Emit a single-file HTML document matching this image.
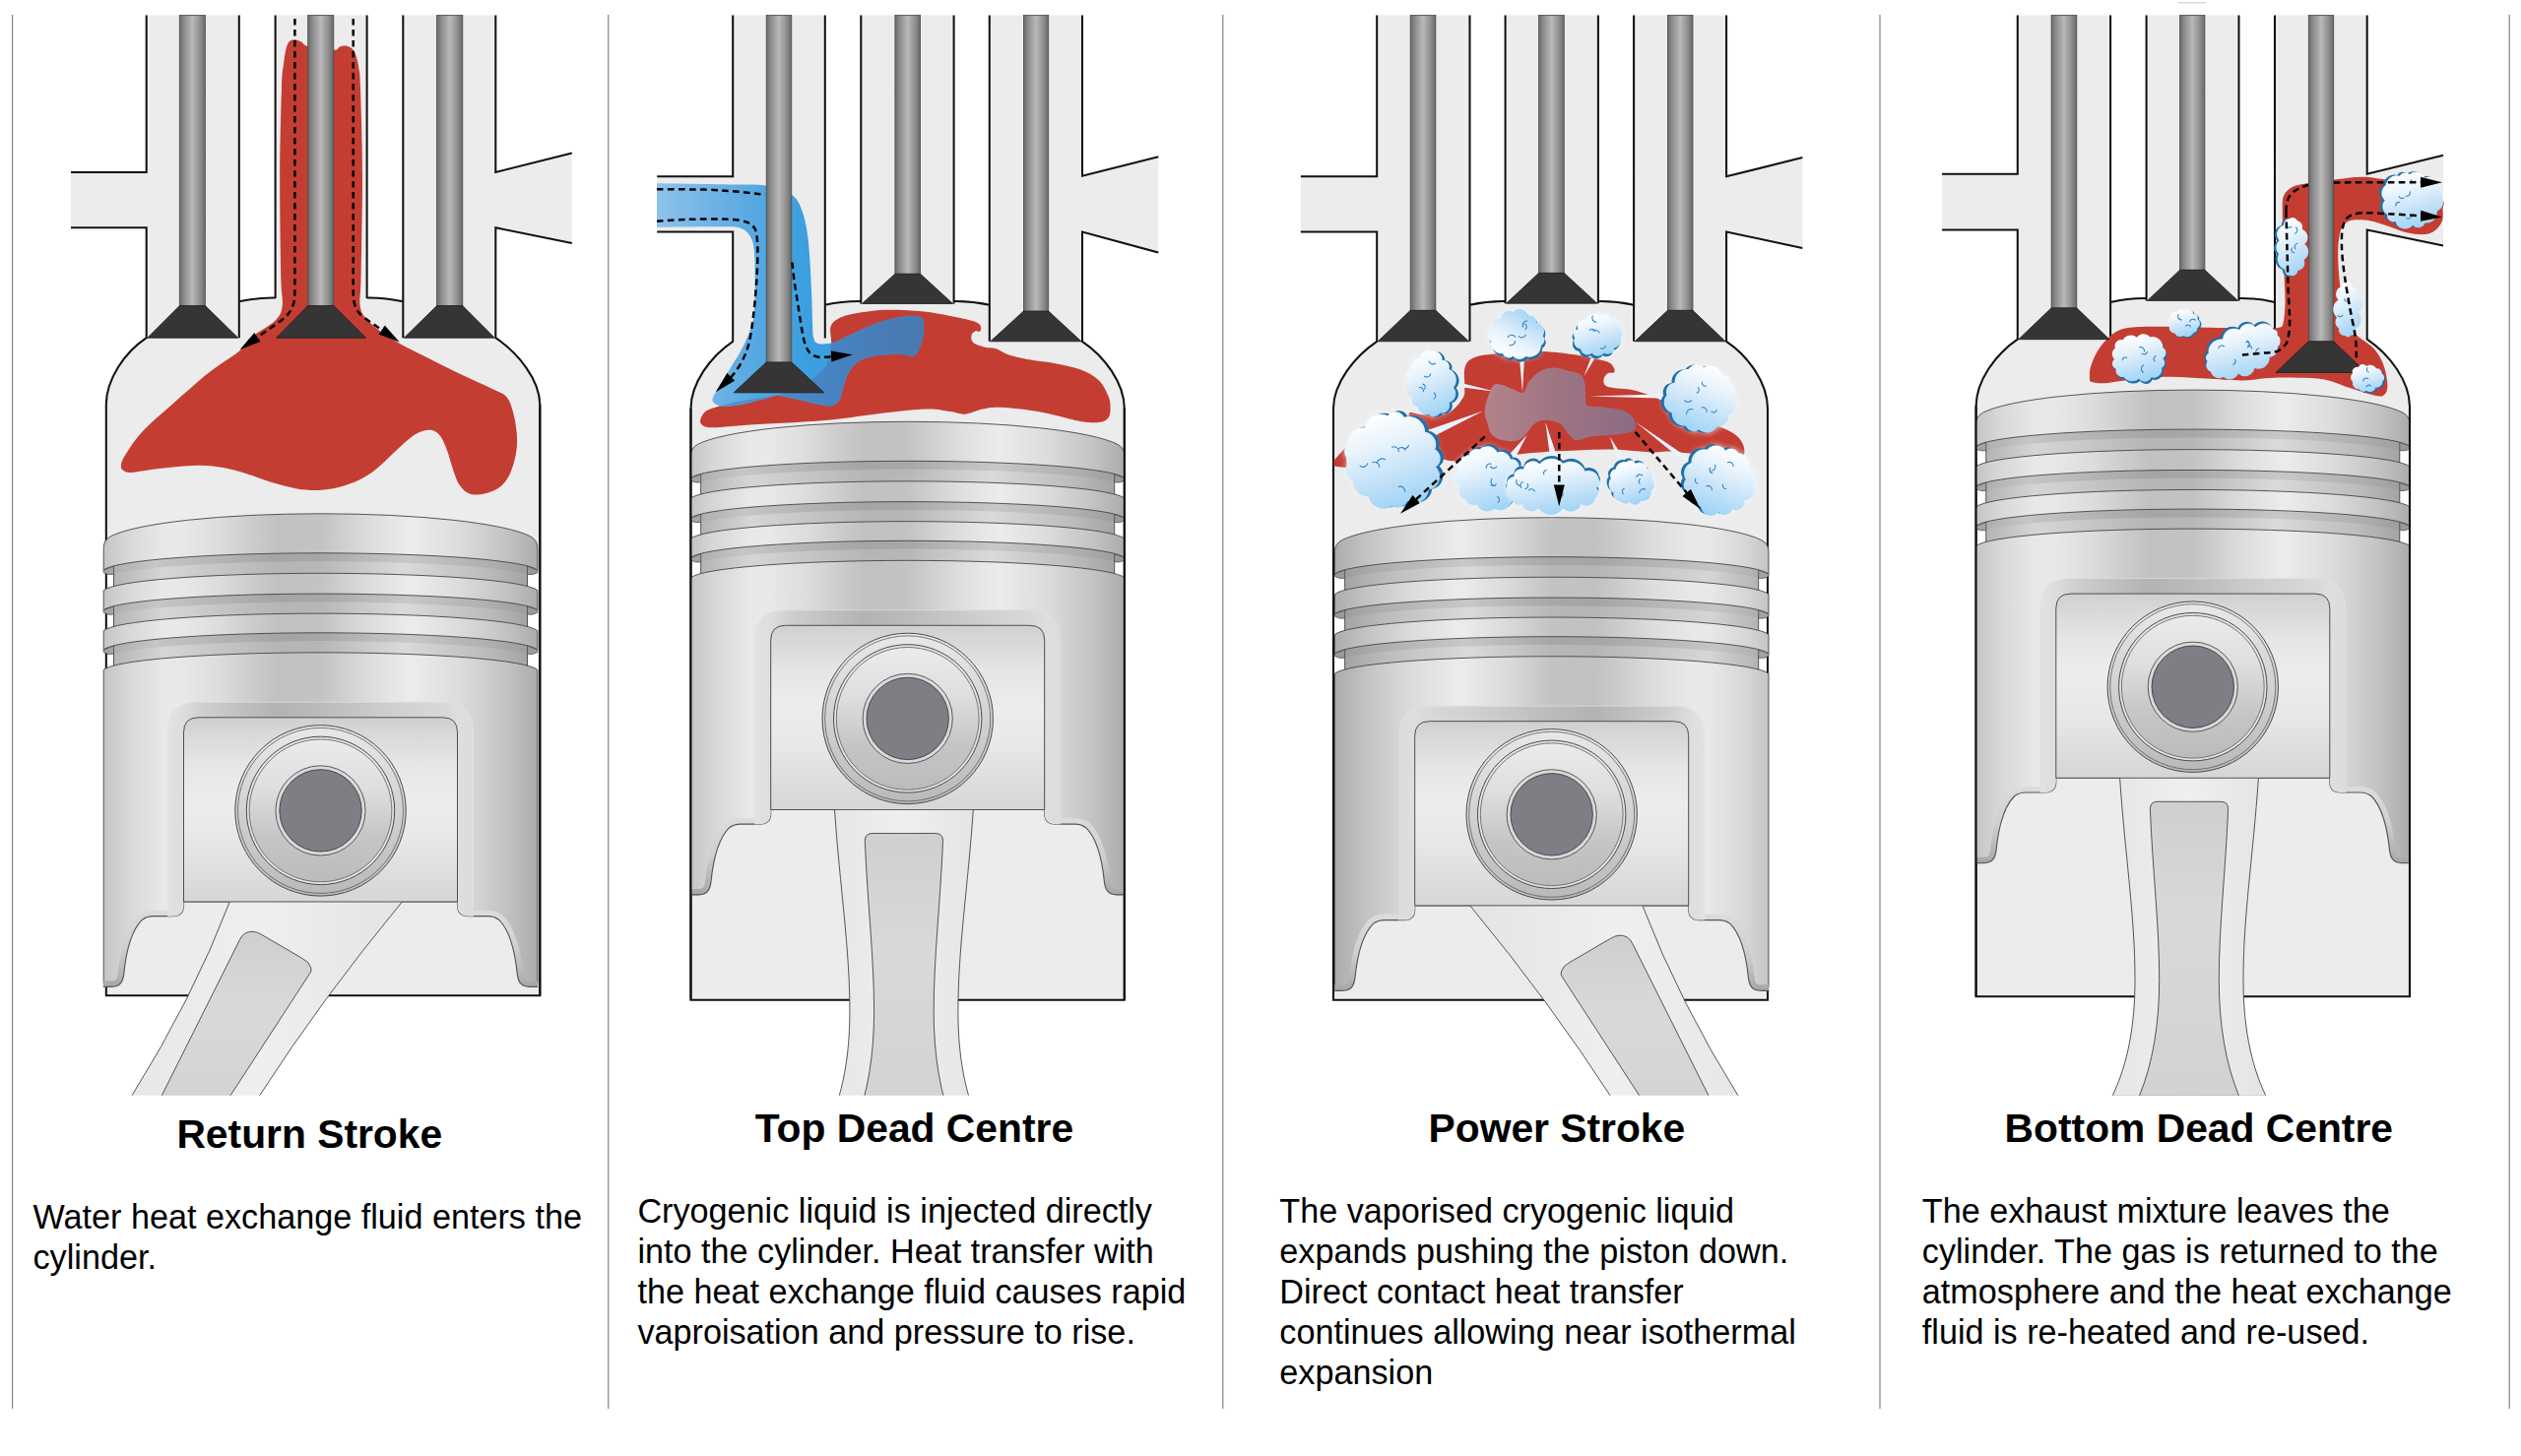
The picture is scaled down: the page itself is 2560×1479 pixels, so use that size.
<!DOCTYPE html>
<html><head><meta charset="utf-8"><title>Engine cycle</title>
<style>html,body{margin:0;padding:0;background:#fff}svg{display:block}text{font-family:"Liberation Sans",sans-serif;fill:#000}</style></head><body>
<svg width="2560" height="1479" viewBox="0 0 2560 1479">
<rect width="2560" height="1479" fill="#fff"/>
<defs>
<linearGradient id="stem" x1="0" x2="1" y1="0" y2="0"><stop offset="0" stop-color="#6a6a6a"/><stop offset="0.18" stop-color="#8c8c8c"/><stop offset="0.5" stop-color="#b9b9b9"/><stop offset="0.8" stop-color="#8e8e8e"/><stop offset="1" stop-color="#686868"/></linearGradient>
<linearGradient id="pg" x1="0" x2="1" y1="0" y2="0"><stop offset="0" stop-color="#c4c4c4"/><stop offset="0.05" stop-color="#d6d6d6"/><stop offset="0.135" stop-color="#e8e8e8"/><stop offset="0.175" stop-color="#e9e9e9"/><stop offset="0.27" stop-color="#dcdcdc"/><stop offset="0.40" stop-color="#c2c0c1"/><stop offset="0.50" stop-color="#c4c3c4"/><stop offset="0.62" stop-color="#dedede"/><stop offset="0.71" stop-color="#ececec"/><stop offset="0.82" stop-color="#dcdcdc"/><stop offset="0.92" stop-color="#c6c5c6"/><stop offset="1" stop-color="#acacac"/></linearGradient>
<linearGradient id="gg" x1="0" x2="1" y1="0" y2="0"><stop offset="0" stop-color="#b4b4b4"/><stop offset="0.12" stop-color="#d6d6d6"/><stop offset="0.40" stop-color="#b6b4b5"/><stop offset="0.50" stop-color="#b8b7b8"/><stop offset="0.70" stop-color="#dadada"/><stop offset="0.9" stop-color="#bcbcbc"/><stop offset="1" stop-color="#a4a4a4"/></linearGradient>
<linearGradient id="gs" x1="0" x2="1" y1="0" y2="0"><stop offset="0" stop-color="#a8a8a8"/><stop offset="0.12" stop-color="#c6c6c6"/><stop offset="0.40" stop-color="#a6a4a5"/><stop offset="0.50" stop-color="#a8a7a8"/><stop offset="0.70" stop-color="#c8c8c8"/><stop offset="0.9" stop-color="#adadad"/><stop offset="1" stop-color="#989898"/></linearGradient>
<linearGradient id="rb" x1="0" x2="1" y1="0" y2="0"><stop offset="0" stop-color="#e2e2e2"/><stop offset="0.045" stop-color="#dedede"/><stop offset="0.12" stop-color="#cecece"/><stop offset="0.36" stop-color="#b4b2b3"/><stop offset="0.5" stop-color="#bcbbbc"/><stop offset="0.75" stop-color="#d0d0d0"/><stop offset="0.9" stop-color="#d8d8d8"/><stop offset="0.955" stop-color="#dedede"/><stop offset="1" stop-color="#dcdcdc"/></linearGradient>
<linearGradient id="ri" x1="0" x2="0" y1="0" y2="1"><stop offset="0" stop-color="#d0d0d0"/><stop offset="0.25" stop-color="#e6e6e6"/><stop offset="0.45" stop-color="#ededed"/><stop offset="0.65" stop-color="#e8e8e8"/><stop offset="1" stop-color="#d6d6d6"/></linearGradient>
<linearGradient id="pinO" x1="0" x2="0" y1="0" y2="1"><stop offset="0" stop-color="#e8e8e8"/><stop offset="0.45" stop-color="#d4d4d4"/><stop offset="1" stop-color="#b9b9b9"/></linearGradient>
<linearGradient id="pinI" x1="0" x2="0" y1="0" y2="1"><stop offset="0" stop-color="#ebebeb"/><stop offset="0.35" stop-color="#dedede"/><stop offset="0.7" stop-color="#c6c5c6"/><stop offset="1" stop-color="#bcbbbc"/></linearGradient>
<linearGradient id="rodO" x1="0" x2="1" y1="0" y2="0"><stop offset="0" stop-color="#e6e6e6"/><stop offset="0.5" stop-color="#efefef"/><stop offset="1" stop-color="#e4e4e4"/></linearGradient>
<linearGradient id="rodI" x1="0" x2="0" y1="0" y2="1"><stop offset="0" stop-color="#cfcfcf"/><stop offset="0.4" stop-color="#d9d9d9"/><stop offset="1" stop-color="#d2d2d2"/></linearGradient>
<linearGradient id="cl" x1="0.3" y1="0.02" x2="0.62" y2="1"><stop offset="0" stop-color="#ffffff"/><stop offset="0.3" stop-color="#eaf4fc"/><stop offset="0.65" stop-color="#c4e2f8"/><stop offset="1" stop-color="#9dd3f5"/></linearGradient>
<linearGradient id="cl2" x1="0.75" y1="0.02" x2="0.35" y2="1"><stop offset="0" stop-color="#ffffff"/><stop offset="0.3" stop-color="#eaf4fc"/><stop offset="0.65" stop-color="#c4e2f8"/><stop offset="1" stop-color="#9dd3f5"/></linearGradient>
<linearGradient id="clu" x1="0.25" y1="0.95" x2="0.8" y2="0.05"><stop offset="0" stop-color="#ffffff"/><stop offset="0.35" stop-color="#eaf4fc"/><stop offset="0.7" stop-color="#c4e2f8"/><stop offset="1" stop-color="#9dd3f5"/></linearGradient>
<filter id="bl" x="-30%" y="-30%" width="160%" height="160%"><feGaussianBlur stdDeviation="3"/></filter>
<filter id="bl1" x="-30%" y="-30%" width="160%" height="160%"><feGaussianBlur stdDeviation="1.2"/></filter>
<linearGradient id="blu" gradientUnits="userSpaceOnUse" x1="667" y1="0" x2="940" y2="0"><stop offset="0" stop-color="#8ec2ea"/><stop offset="0.3" stop-color="#60ace3"/><stop offset="0.55" stop-color="#3c9fdf"/><stop offset="1" stop-color="#3a9ade"/></linearGradient>
<linearGradient id="pur" gradientUnits="userSpaceOnUse" x1="1505" y1="0" x2="1662" y2="0"><stop offset="0" stop-color="#b3838a"/><stop offset="0.5" stop-color="#9e7482"/><stop offset="1" stop-color="#8c6b86"/></linearGradient>
<marker id="ah" viewBox="0 0 22 12" refX="4" refY="6" markerWidth="22" markerHeight="12" markerUnits="userSpaceOnUse" orient="auto"><path d="M0,0.5L22,6L0,11.5Z" fill="#000"/></marker>
<linearGradient id="stl" gradientUnits="userSpaceOnUse" x1="730" y1="0" x2="940" y2="0"><stop offset="0" stop-color="#5a92cc"/><stop offset="0.5" stop-color="#4684c2"/><stop offset="1" stop-color="#4a78b0"/></linearGradient>
<linearGradient id="bv" gradientUnits="userSpaceOnUse" x1="0" y1="400" x2="0" y2="482"><stop offset="0" stop-color="#dddddd"/><stop offset="0.5" stop-color="#cfcfcf"/><stop offset="0.85" stop-color="#b2b2b2"/><stop offset="1" stop-color="#a4a4a4"/></linearGradient>
<clipPath id="bvc"><rect x="-220.3" y="380" width="440.6" height="100.5"/></clipPath>
<clipPath id="gc"><rect x="-210" y="0" width="420" height="220"/></clipPath>
</defs>
<line x1="12.6" y1="15" x2="12.6" y2="1431" stroke="#8e8e8e" stroke-width="1.3"/>
<line x1="617.7" y1="15" x2="617.7" y2="1431" stroke="#8e8e8e" stroke-width="1.3"/>
<line x1="1241.8" y1="15" x2="1241.8" y2="1431" stroke="#8e8e8e" stroke-width="1.3"/>
<line x1="1909" y1="15" x2="1909" y2="1431" stroke="#8e8e8e" stroke-width="1.3"/>
<line x1="2548.2" y1="15" x2="2548.2" y2="1431" stroke="#8e8e8e" stroke-width="1.3"/>
<rect x="2212" y="2" width="28" height="1.5" fill="#d8d8d8"/>
<g id="panel1">
<path d="M148.7,15.5 V174.9 H72 V231.3 H148.7 V343.2C126,358.5 108,385.5 107.8,411.2V1011.3 H548.3 V411.2C548.1,385.5 526,358.5 503.3,343.2V231.3 L580.8,247 V155.6 L503.3,174.9 V15.5H409.3 V306.3Q391,302.2 372.6,302.5V15.5 H279.6 V302.5Q261.2,302.2 242.8,306.3V15.5Z" fill="#ececec"/>
<rect x="103.7" y="578.1" width="443.6" height="22.6" fill="#fff"/>
<rect x="103.7" y="618.7" width="443.6" height="23" fill="#fff"/>
<rect x="103.7" y="659" width="443.6" height="22.4" fill="#fff"/>
<path d="M148.7,15.5 V174.9 H72M72,231.3 H148.7 V343.2C126,358.5 108,385.5 107.8,411.2V1011.3 H548.3 V411.2C548.1,385.5 526,358.5 503.3,343.2V231.3 L580.8,247M580.8,155.6 L503.3,174.9 V15.5M242.8,15.5 V343.2M279.6,15.5 V303M372.6,15.5 V303M409.3,15.5 V343.2M242.8,306.3 Q261.2,302.2 279.6,302.5M372.6,302.5 Q391,302.2 409.3,306.3" fill="none" stroke="#111" stroke-width="2.05" stroke-linejoin="miter"/>
<g transform="translate(325.5,521.8)">
<rect x="-210" y="40" width="420" height="38.9" fill="url(#gg)" stroke="#454545" stroke-width="0.9"/>
<path d="M-220.3,57.3A221.3,19.1 0 0 1 220.3,57.3V65.6A221.3,19.1 0 0 0 -220.3,65.6Z" fill="url(#gs)" clip-path="url(#gc)"/>
<path d="M-220.3,57.3 L-210,53.3 V61.5 Q-215.3,62.8 -220.3,59.9 Z" fill="#a4a4a4" stroke="#454545" stroke-width="0.7"/>
<path d="M220.3,57.3 L210,53.3 V61.5 Q215.3,62.8 220.3,59.9 Z" fill="#9a9a9a" stroke="#454545" stroke-width="0.7"/>
<rect x="-210" y="81.3" width="420" height="38.6" fill="url(#gg)" stroke="#454545" stroke-width="0.9"/>
<path d="M-220.3,97.9A221.3,18.3 0 0 1 220.3,97.9V106.2A221.3,18.3 0 0 0 -220.3,106.2Z" fill="url(#gs)" clip-path="url(#gc)"/>
<path d="M-220.3,97.9 L-210,94.1 V102.3 Q-215.3,103.4 -220.3,100.5 Z" fill="#a4a4a4" stroke="#454545" stroke-width="0.7"/>
<path d="M220.3,97.9 L210,94.1 V102.3 Q215.3,103.4 220.3,100.5 Z" fill="#9a9a9a" stroke="#454545" stroke-width="0.7"/>
<rect x="-210" y="121" width="420" height="38.6" fill="url(#gg)" stroke="#454545" stroke-width="0.9"/>
<path d="M-220.3,138.2A221.3,19 0 0 1 220.3,138.2V146.5A221.3,19 0 0 0 -220.3,146.5Z" fill="url(#gs)" clip-path="url(#gc)"/>
<path d="M-220.3,138.2 L-210,134.3 V142.5 Q-215.3,143.7 -220.3,140.8 Z" fill="#a4a4a4" stroke="#454545" stroke-width="0.7"/>
<path d="M220.3,138.2 L210,134.3 V142.5 Q215.3,143.7 220.3,140.8 Z" fill="#9a9a9a" stroke="#454545" stroke-width="0.7"/>
<path d="M-220.3,158.6A221.3,19.4 0 0 1 220.3,158.6V477.3 Q220.3,480.3 217.3,480.3 H-217.3 Q-220.3,480.3 -220.3,477.3 Z" fill="url(#pg)" stroke="#454545" stroke-width="0.9"/>
<path d="M220.8,480.6 H212 C204,480.3 201,476.5 199.8,468 C198,450 194,425 181,412.4 C177,409.5 173,408.9 169.8,408.9 H150 C143,408.9 139,405 139,398 V394.2 H-139 V398 C-139,405 -143,408.9 -150,408.9 H-169.8 C-173,408.9 -177,409.5 -181,412.4 C-194,425 -198,450 -199.8,468 C-201,476.5 -204,480.3 -212,480.6 H-220.8" fill="none" stroke="url(#bv)" stroke-width="12" stroke-linejoin="round" clip-path="url(#bvc)"/>
<path d="M212,481.6 V480.6 C204,480.3 201,476.5 199.8,468 C198,450 194,425 181,412.4 C177,409.5 173,408.9 169.8,408.9 H150 C143,408.9 139,405 139,398 V394.2 H-139 V398 C-139,405 -143,408.9 -150,408.9 H-169.8 C-173,408.9 -177,409.5 -181,412.4 C-194,425 -198,450 -199.8,468 C-201,476.5 -204,480.3 -212,480.6 V481.6 Z" fill="#ececec"/>
<path d="M220.8,480.6 H212 C204,480.3 201,476.5 199.8,468 C198,450 194,425 181,412.4 C177,409.5 173,408.9 169.8,408.9 H150 C143,408.9 139,405 139,398 V394.2 H-139 V398 C-139,405 -143,408.9 -150,408.9 H-169.8 C-173,408.9 -177,409.5 -181,412.4 C-194,425 -198,450 -199.8,468 C-201,476.5 -204,480.3 -212,480.6 H-220.8" fill="none" stroke="#555" stroke-width="1.15"/>
<path d="M-155,408.9 V221.5 Q-155,191.5 -125,191.5 H125 Q155,191.5 155,221.5 V408.9 H150 C143,408.9 139,405 139,398 V394.2 H-139 V398 C-139,405 -143,408.9 -150,408.9 Z" fill="url(#rb)"/>
<path d="M-155,408.9 V221.5 Q-155,191.5 -125,191.5 H125 Q155,191.5 155,221.5 V408.9" fill="none" stroke="#e2e2e2" stroke-width="0.9" opacity="0.8"/>
<path d="M-139,394.2 V222 Q-139,207 -124,207 H124 Q139,207 139,222 V394.2 Z" fill="url(#ri)" stroke="#4e4e4e" stroke-width="1"/>
<circle cx="0" cy="301.6" r="86.7" fill="url(#pinO)" stroke="#4a4a4a" stroke-width="1"/>
<circle cx="0" cy="301.6" r="84" fill="none" stroke="#5a5a5a" stroke-width="0.8"/>
<circle cx="0" cy="301.6" r="75.2" fill="#e2e2e2" stroke="#4a4a4a" stroke-width="1"/>
<circle cx="0" cy="301.6" r="72.4" fill="url(#pinI)" stroke="#5a5a5a" stroke-width="0.8"/>
<circle cx="0" cy="301.6" r="45.6" fill="#d9d9dc" stroke="#4a4a4a" stroke-width="0.9"/>
<circle cx="0" cy="301.6" r="41.7" fill="#7d7f84" stroke="#3c3c3c" stroke-width="0.9"/>
<path d="M-220.3,34.8 Q-220.3,27 -213.3,23.1A221.3,31.5 0 0 1 213.3,23.1Q220.3,27 220.3,34.8V57.3A221.3,19.1 0 0 0 -220.3,57.3Z" fill="url(#pg)" stroke="#454545" stroke-width="0.9" stroke-linejoin="round"/>
<path d="M-220.3,77.9A221.3,19.2 0 0 1 220.3,77.9V97.9A221.3,18.3 0 0 0 -220.3,97.9Z" fill="url(#pg)" stroke="#454545" stroke-width="0.9" stroke-linejoin="round"/>
<path d="M-220.3,118.9A221.3,19.4 0 0 1 220.3,118.9V138.2A221.3,19 0 0 0 -220.3,138.2Z" fill="url(#pg)" stroke="#454545" stroke-width="0.9" stroke-linejoin="round"/>
</g>
<path d="M548.3,411.2 V1011.3" fill="none" stroke="#111" stroke-width="2.05"/>
<clipPath id="rc0"><rect x="-24.5" y="916" width="700" height="196.8"/></clipPath>
<g clip-path="url(#rc0)"><g transform="translate(325.5,521.8)">
<path d="M-92.2,394.2 Q-129.9,492.6 -191.5,591 L-209.7,620 H-80.6 L-61.9,591 Q1.5,492.6 82.9,394.2Z" fill="url(#rodO)" stroke="#444" stroke-width="0.9"/>
<path d="M-175.7,620 L-82.1,432.9 Q-78,424 -68.5,424.5 Q-64,425 -60,427.5 L-18,452 Q-11,456 -9.9,461 Q-8.5,464.5 -10.5,466.4 L-110.3,620Z" fill="url(#rodI)" stroke="#444" stroke-width="0.9"/>
</g></g>
<path d="M290,52C290.8,48.3 291.6,45 293,43C294.4,41 296.5,40.3 298.7,40.2C300.9,40.1 303.7,41.4 306,42.5C308.3,43.6 307.2,45.6 312.7,47C318.2,48.4 333.4,50.7 338.8,50.8C344.2,50.9 343,48.2 345,47.5C347,46.8 348.8,46.2 350.8,46.5C352.8,46.8 355.3,47.6 357,49C358.7,50.4 359.8,51.2 361,54.7C362.2,58.2 363.7,64.3 364.5,70C365.3,75.7 365.4,71 366,89C366.6,107 367.9,146.2 368,178C368.1,209.8 366.9,257.2 366.6,279.6C366.3,302.1 364.4,304.6 366,312.7C367.6,320.8 372.2,323.5 376.2,327.9C380.2,332.3 384.9,335.4 390,339C395.1,342.6 400.3,345.9 406.7,349.5C413.1,353.1 418.4,355.5 428.4,360.5C438.4,365.5 454.2,373.6 466.5,379.5C478.8,385.4 494.1,392 502.1,396C510.2,400 511.6,399.9 514.8,403.7C518,407.5 519.4,412.5 521.1,418.9C522.8,425.2 524.5,434.6 524.9,441.8C525.3,449 525,455.3 523.7,462.1C522.4,468.9 520,476.9 517.3,482.4C514.5,487.9 511.4,491.9 507.2,495.1C503,498.3 497,500.4 491.9,501.5C486.8,502.6 480.9,503 476.7,501.5C472.5,500 469.2,496.6 466.5,492.6C463.8,488.6 462.3,483.3 460.2,477.4C458.1,471.5 456.1,462.9 453.8,457C451.5,451.1 449.2,445.2 446.2,441.8C443.2,438.4 440.2,436.7 436,436.7C431.8,436.7 426.3,438.4 420.8,441.8C415.3,445.2 410.2,450.6 403,457C395.8,463.4 386.1,474 377.6,479.9C369.1,485.8 360.7,489.6 352.2,492.6C343.7,495.6 335.3,497.1 326.8,497.7C318.3,498.3 309.9,497.7 301.4,496.4C292.9,495.1 284.5,492.6 276,490.1C267.5,487.6 259,483.8 250.5,481.2C242,478.6 233.6,476.2 225.1,474.8C216.6,473.4 210.3,472.6 199.7,472.8C189.1,473 172.6,474.9 161.6,476.1C150.6,477.3 139.8,479.7 133.7,479.9C127.6,480.1 126.6,478.7 124.8,477.4C123,476.1 122.6,474.9 123,472.3C123.4,469.8 123.8,467.6 127.3,462.1C130.8,456.6 136,447.7 143.8,439.2C151.6,430.7 162.9,421.4 174.3,411.3C185.7,401.2 201,387.4 212.4,378.3C223.8,369.2 235.9,362.6 242.9,356.7C249.9,350.8 248.1,348.4 254.2,343.2C260.3,338 274.2,330.9 279.6,325.4C285,319.9 285.8,317.6 286.7,310C287.6,302.4 285.6,301.6 285.2,279.6C284.8,257.6 284.1,209.8 284.2,178C284.3,146.2 285.4,107.8 286,89C286.6,70.2 287.3,71.2 288,65C288.7,58.8 289.2,55.7 290,52Z" fill="#c43d33"/>
<rect x="182.3" y="15.5" width="26.1" height="295.6" fill="url(#stem)" stroke="#4a4a4a" stroke-width="0.8"/>
<path d="M182.3,310.6 H208.4 L241.8,343.2 H149.7Z" fill="#353535" stroke="#1c1c1c" stroke-width="0.8"/>
<rect x="312.7" y="15.5" width="26.1" height="295.6" fill="url(#stem)" stroke="#4a4a4a" stroke-width="0.8"/>
<path d="M312.7,310.6 H338.8 L371.6,343.2 H280.6Z" fill="#353535" stroke="#1c1c1c" stroke-width="0.8"/>
<rect x="443.6" y="15.5" width="26.2" height="295.6" fill="url(#stem)" stroke="#4a4a4a" stroke-width="0.8"/>
<path d="M443.6,310.6 H469.8 L502.3,343.2 H410.3Z" fill="#353535" stroke="#1c1c1c" stroke-width="0.8"/>
<path d="M299.4,19 V296 C299.4,312 295,318 285,326 L258.2,344.8" fill="none" stroke="#000" stroke-width="2.5" stroke-dasharray="6.6 4.4" marker-end="url(#ah)"/>
<path d="M358.7,19 V296 C358.7,311 362,317 371,323.5 L390.9,337.3" fill="none" stroke="#000" stroke-width="2.5" stroke-dasharray="6.6 4.4" marker-end="url(#ah)"/>
</g>
<g id="panel2">
<path d="M744.2,15.5 V179.3 H667.2 V235.5 H744.2 V346.8C721.5,362.1 701.7,389.1 701.5,414.8V1015.8 H1141.8 V414.8C1141.6,389.1 1121.7,362.1 1099,346.8V235.5 L1176.3,256.6 V159.2 L1099,178.7 V15.5H1004.8 V309.7Q986.7,305.7 968.6,306V15.5 H874.3 V306Q856,305.7 837.8,309.7V15.5Z" fill="#ececec"/>
<rect x="699.9" y="484.6" width="443.6" height="22.6" fill="#fff"/>
<rect x="699.9" y="525.2" width="443.6" height="23" fill="#fff"/>
<rect x="699.9" y="565.5" width="443.6" height="22.4" fill="#fff"/>
<path d="M744.2,15.5 V179.3 H667.2M667.2,235.5 H744.2 V346.8C721.5,362.1 701.7,389.1 701.5,414.8V1015.8 H1141.8 V414.8C1141.6,389.1 1121.7,362.1 1099,346.8V235.5 L1176.3,256.6M1176.3,159.2 L1099,178.7 V15.5M837.8,15.5 V343.5M874.3,15.5 V308.5M968.6,15.5 V308.5M1004.8,15.5 V346.8M837.8,309.7 Q856,305.7 874.3,306M968.6,306 Q986.7,305.7 1004.8,309.7" fill="none" stroke="#111" stroke-width="2.05" stroke-linejoin="miter"/>
<g transform="translate(921.7,428.3)">
<rect x="-210" y="40" width="420" height="38.9" fill="url(#gg)" stroke="#454545" stroke-width="0.9"/>
<path d="M-220.3,57.3A221.3,19.1 0 0 1 220.3,57.3V65.6A221.3,19.1 0 0 0 -220.3,65.6Z" fill="url(#gs)" clip-path="url(#gc)"/>
<path d="M-220.3,57.3 L-210,53.3 V61.5 Q-215.3,62.8 -220.3,59.9 Z" fill="#a4a4a4" stroke="#454545" stroke-width="0.7"/>
<path d="M220.3,57.3 L210,53.3 V61.5 Q215.3,62.8 220.3,59.9 Z" fill="#9a9a9a" stroke="#454545" stroke-width="0.7"/>
<rect x="-210" y="81.3" width="420" height="38.6" fill="url(#gg)" stroke="#454545" stroke-width="0.9"/>
<path d="M-220.3,97.9A221.3,18.3 0 0 1 220.3,97.9V106.2A221.3,18.3 0 0 0 -220.3,106.2Z" fill="url(#gs)" clip-path="url(#gc)"/>
<path d="M-220.3,97.9 L-210,94.1 V102.3 Q-215.3,103.4 -220.3,100.5 Z" fill="#a4a4a4" stroke="#454545" stroke-width="0.7"/>
<path d="M220.3,97.9 L210,94.1 V102.3 Q215.3,103.4 220.3,100.5 Z" fill="#9a9a9a" stroke="#454545" stroke-width="0.7"/>
<rect x="-210" y="121" width="420" height="38.6" fill="url(#gg)" stroke="#454545" stroke-width="0.9"/>
<path d="M-220.3,138.2A221.3,19 0 0 1 220.3,138.2V146.5A221.3,19 0 0 0 -220.3,146.5Z" fill="url(#gs)" clip-path="url(#gc)"/>
<path d="M-220.3,138.2 L-210,134.3 V142.5 Q-215.3,143.7 -220.3,140.8 Z" fill="#a4a4a4" stroke="#454545" stroke-width="0.7"/>
<path d="M220.3,138.2 L210,134.3 V142.5 Q215.3,143.7 220.3,140.8 Z" fill="#9a9a9a" stroke="#454545" stroke-width="0.7"/>
<path d="M-220.3,158.6A221.3,19.4 0 0 1 220.3,158.6V477.3 Q220.3,480.3 217.3,480.3 H-217.3 Q-220.3,480.3 -220.3,477.3 Z" fill="url(#pg)" stroke="#454545" stroke-width="0.9"/>
<path d="M220.8,480.6 H212 C204,480.3 201,476.5 199.8,468 C198,450 194,425 181,412.4 C177,409.5 173,408.9 169.8,408.9 H150 C143,408.9 139,405 139,398 V394.2 H-139 V398 C-139,405 -143,408.9 -150,408.9 H-169.8 C-173,408.9 -177,409.5 -181,412.4 C-194,425 -198,450 -199.8,468 C-201,476.5 -204,480.3 -212,480.6 H-220.8" fill="none" stroke="url(#bv)" stroke-width="12" stroke-linejoin="round" clip-path="url(#bvc)"/>
<path d="M212,481.6 V480.6 C204,480.3 201,476.5 199.8,468 C198,450 194,425 181,412.4 C177,409.5 173,408.9 169.8,408.9 H150 C143,408.9 139,405 139,398 V394.2 H-139 V398 C-139,405 -143,408.9 -150,408.9 H-169.8 C-173,408.9 -177,409.5 -181,412.4 C-194,425 -198,450 -199.8,468 C-201,476.5 -204,480.3 -212,480.6 V481.6 Z" fill="#ececec"/>
<path d="M220.8,480.6 H212 C204,480.3 201,476.5 199.8,468 C198,450 194,425 181,412.4 C177,409.5 173,408.9 169.8,408.9 H150 C143,408.9 139,405 139,398 V394.2 H-139 V398 C-139,405 -143,408.9 -150,408.9 H-169.8 C-173,408.9 -177,409.5 -181,412.4 C-194,425 -198,450 -199.8,468 C-201,476.5 -204,480.3 -212,480.6 H-220.8" fill="none" stroke="#555" stroke-width="1.15"/>
<path d="M-155,408.9 V221.5 Q-155,191.5 -125,191.5 H125 Q155,191.5 155,221.5 V408.9 H150 C143,408.9 139,405 139,398 V394.2 H-139 V398 C-139,405 -143,408.9 -150,408.9 Z" fill="url(#rb)"/>
<path d="M-155,408.9 V221.5 Q-155,191.5 -125,191.5 H125 Q155,191.5 155,221.5 V408.9" fill="none" stroke="#e2e2e2" stroke-width="0.9" opacity="0.8"/>
<path d="M-139,394.2 V222 Q-139,207 -124,207 H124 Q139,207 139,222 V394.2 Z" fill="url(#ri)" stroke="#4e4e4e" stroke-width="1"/>
<circle cx="0" cy="301.6" r="86.7" fill="url(#pinO)" stroke="#4a4a4a" stroke-width="1"/>
<circle cx="0" cy="301.6" r="84" fill="none" stroke="#5a5a5a" stroke-width="0.8"/>
<circle cx="0" cy="301.6" r="75.2" fill="#e2e2e2" stroke="#4a4a4a" stroke-width="1"/>
<circle cx="0" cy="301.6" r="72.4" fill="url(#pinI)" stroke="#5a5a5a" stroke-width="0.8"/>
<circle cx="0" cy="301.6" r="45.6" fill="#d9d9dc" stroke="#4a4a4a" stroke-width="0.9"/>
<circle cx="0" cy="301.6" r="41.7" fill="#7d7f84" stroke="#3c3c3c" stroke-width="0.9"/>
<path d="M-220.3,34.8 Q-220.3,27 -213.3,23.1A221.3,31.5 0 0 1 213.3,23.1Q220.3,27 220.3,34.8V57.3A221.3,19.1 0 0 0 -220.3,57.3Z" fill="url(#pg)" stroke="#454545" stroke-width="0.9" stroke-linejoin="round"/>
<path d="M-220.3,77.9A221.3,19.2 0 0 1 220.3,77.9V97.9A221.3,18.3 0 0 0 -220.3,97.9Z" fill="url(#pg)" stroke="#454545" stroke-width="0.9" stroke-linejoin="round"/>
<path d="M-220.3,118.9A221.3,19.4 0 0 1 220.3,118.9V138.2A221.3,19 0 0 0 -220.3,138.2Z" fill="url(#pg)" stroke="#454545" stroke-width="0.9" stroke-linejoin="round"/>
</g>
<path d="M701.5,414.8 V1015.8M1141.8,414.8 V1015.8" fill="none" stroke="#111" stroke-width="2.05"/>
<clipPath id="rc1"><rect x="571.7" y="822.5" width="700" height="290.3"/></clipPath>
<g clip-path="url(#rc1)"><g transform="translate(921.7,428.3)">
<path d="M-74.2,394.2C-68.7,474.2 -58.8,534.2 -58.8,599.2 C-58.8,644.2 -65.8,684.2 -81.8,717.2H74.2C58.2,684.2 51.2,644.2 51.2,599.2 C51.2,534.2 61.1,474.2 66.6,394.2Z" fill="url(#rodO)" stroke="#444" stroke-width="0.9"/>
<path d="M-43.4,426.2C-40.8,489.2 -34.1,544.2 -34.1,599.2 C-34.1,644.2 -40.8,684.2 -54.4,717.2H46.8C33.2,684.2 26.5,644.2 26.5,599.2 C26.5,544.2 33.2,489.2 35.8,426.2Q36,418.2 28.2,418.2 H-35.8 Q-43.6,418.2 -43.4,426.2Z" fill="url(#rodI)" stroke="#444" stroke-width="0.9"/>
</g></g>
<path d="M843.6,331.4C845.4,326.8 849.8,324.4 854.8,322.1C859.8,319.8 865.6,318.7 873.3,317.5C881,316.3 890.3,314.9 901.1,314.7C911.9,314.5 925.8,315.1 938.2,316.5C950.6,317.9 966.3,321.1 975.3,323C984.3,324.9 988.5,326.1 992,327.7C995.5,329.2 995.6,330.8 996.1,332.3C996.6,333.8 995.8,336.2 994.8,336.9C993.8,337.6 991.6,335.9 990.2,336.5C988.8,337.1 986.8,338.8 986.5,340.7C986.2,342.6 986,346.1 988.3,348.1C990.5,350.1 996.2,351.7 1000,352.7C1003.8,353.7 1007.1,352.7 1011,353.9C1014.9,355.1 1018.1,358.3 1023.3,360.1C1028.5,361.9 1033.7,363.2 1041.9,364.8C1050.2,366.4 1063.5,367.6 1072.8,369.4C1082.1,371.2 1090.3,372.8 1097.5,375.6C1104.7,378.4 1111.4,382 1116,386.4C1120.6,390.8 1123.4,397.6 1125.3,401.9C1127.2,406.2 1127.3,408.4 1127.5,412C1127.7,415.6 1127.6,420.4 1126.2,423.2C1124.8,425.9 1122.5,427.5 1119,428.5C1115.5,429.5 1109.5,429.2 1105,429C1100.5,428.8 1100.4,428.8 1091.9,427C1083.4,425.2 1066.5,420.3 1053.8,418.1C1041.1,415.9 1025,414.2 1015.7,413.8C1006.4,413.4 1003.8,414.5 997.9,415.6C992,416.8 985.6,420.3 980.1,420.7C974.6,421.1 971.7,419 964.9,418.1C958.1,417.2 952.2,415.2 939.5,415.6C926.8,416 905.7,418.8 888.7,420.7C871.8,422.6 859,425.2 837.8,427C816.6,428.8 780.6,430.3 761.6,431.5C742.6,432.7 731.7,434.4 723.5,434.3C715.3,434.2 714.6,432.8 712.6,431.2C710.6,429.6 710.9,427.3 711.7,425C712.5,422.7 714.3,419.4 717.3,417.3C720.3,415.2 725.6,414 729.7,412.7C733.8,411.4 737,410.6 742,409.5C747,408.4 752,407.4 760,406C768,404.6 780.8,403.3 790,401C799.2,398.7 807,396.8 815,392C823,387.2 833.2,379 838,372C842.8,365 843.1,356.8 844,350C844.9,343.2 841.8,336 843.6,331.4Z" fill="#c43d33"/>
<clipPath id="redclip"><path d="M843.6,331.4C845.4,326.8 849.8,324.4 854.8,322.1C859.8,319.8 865.6,318.7 873.3,317.5C881,316.3 890.3,314.9 901.1,314.7C911.9,314.5 925.8,315.1 938.2,316.5C950.6,317.9 966.3,321.1 975.3,323C984.3,324.9 988.5,326.1 992,327.7C995.5,329.2 995.6,330.8 996.1,332.3C996.6,333.8 995.8,336.2 994.8,336.9C993.8,337.6 991.6,335.9 990.2,336.5C988.8,337.1 986.8,338.8 986.5,340.7C986.2,342.6 986,346.1 988.3,348.1C990.5,350.1 996.2,351.7 1000,352.7C1003.8,353.7 1007.1,352.7 1011,353.9C1014.9,355.1 1018.1,358.3 1023.3,360.1C1028.5,361.9 1033.7,363.2 1041.9,364.8C1050.2,366.4 1063.5,367.6 1072.8,369.4C1082.1,371.2 1090.3,372.8 1097.5,375.6C1104.7,378.4 1111.4,382 1116,386.4C1120.6,390.8 1123.4,397.6 1125.3,401.9C1127.2,406.2 1127.3,408.4 1127.5,412C1127.7,415.6 1127.6,420.4 1126.2,423.2C1124.8,425.9 1122.5,427.5 1119,428.5C1115.5,429.5 1109.5,429.2 1105,429C1100.5,428.8 1100.4,428.8 1091.9,427C1083.4,425.2 1066.5,420.3 1053.8,418.1C1041.1,415.9 1025,414.2 1015.7,413.8C1006.4,413.4 1003.8,414.5 997.9,415.6C992,416.8 985.6,420.3 980.1,420.7C974.6,421.1 971.7,419 964.9,418.1C958.1,417.2 952.2,415.2 939.5,415.6C926.8,416 905.7,418.8 888.7,420.7C871.8,422.6 859,425.2 837.8,427C816.6,428.8 780.6,430.3 761.6,431.5C742.6,432.7 731.7,434.4 723.5,434.3C715.3,434.2 714.6,432.8 712.6,431.2C710.6,429.6 710.9,427.3 711.7,425C712.5,422.7 714.3,419.4 717.3,417.3C720.3,415.2 725.6,414 729.7,412.7C733.8,411.4 737,410.6 742,409.5C747,408.4 752,407.4 760,406C768,404.6 780.8,403.3 790,401C799.2,398.7 807,396.8 815,392C823,387.2 833.2,379 838,372C842.8,365 843.1,356.8 844,350C844.9,343.2 841.8,336 843.6,331.4Z"/></clipPath>
<path d="M667,186.3C679.2,186.5 721.5,187.1 740,187.5C758.5,187.9 767.4,186.8 778,188.5C788.6,190.2 797.8,193.8 803.8,197.8C809.8,201.8 811.4,206.5 814,212.7C816.6,218.9 818.1,226.6 819.5,234.9C820.9,243.2 821.5,251.9 822.3,262.7C823.1,273.5 823.7,289 824.2,299.8C824.7,310.6 824.8,320.6 825.1,327.7C825.4,334.8 825.1,338.9 826,342.5C826.9,346.1 827.5,348.1 830.7,349C834,349.9 840,349.7 845.5,348.1C851,346.6 856.3,343.1 864,339.7C871.7,336.3 882.6,330.8 891.9,327.7C901.2,324.6 912.6,322.1 919.7,321.2C926.8,320.3 931.4,320.7 934.5,322.1C937.6,323.5 937.9,325.5 938.2,329.5C938.5,333.5 937.9,340.9 936.4,346.2C934.9,351.5 932.4,358.8 929,361.1C925.6,363.4 922.2,360.1 916,360.1C909.8,360.1 899,360 891.9,361.1C884.8,362.2 878.2,363.8 873.3,366.6C868.3,369.4 865,373.5 862.2,377.8C859.4,382.1 858.2,388 856.6,392.6C855,397.2 854.8,402.4 852.9,405.6C851,408.9 848.9,411.2 845.5,412.1C842.1,413 838.7,412.2 832.5,411.1C826.3,410 815.5,407.1 808.4,405.6C801.3,404.1 795.4,401.9 789.8,401.9C784.2,401.9 781.2,404.1 775,405.6C768.8,407.1 759.5,409.9 752.7,411.1C745.9,412.3 738.8,413.3 734.2,413C729.6,412.7 726.6,410.9 724.9,409.3C723.2,407.8 723.1,406.5 724,403.7C724.9,400.9 727.6,397.6 730.5,392.6C733.4,387.7 737.9,380.2 741.6,374C745.3,367.8 749.5,361.7 752.7,355.5C756,349.3 758.9,343.1 761.1,336.9C763.3,330.7 764.8,327.7 765.7,318.4C766.6,309.1 766.7,292.1 766.7,281.3C766.7,270.5 766.5,260.3 765.7,253.5C764.9,246.7 764.2,244.1 762,240.5C759.8,236.9 757.3,233.8 752.7,232.1C748.1,230.4 748.5,230.5 734.2,230.3C719.9,230.1 678.2,230.7 667,230.8Z" fill="url(#blu)"/>
<path d="M667,186.3C679.2,186.5 721.5,187.1 740,187.5C758.5,187.9 767.4,186.8 778,188.5C788.6,190.2 797.8,193.8 803.8,197.8C809.8,201.8 811.4,206.5 814,212.7C816.6,218.9 818.1,226.6 819.5,234.9C820.9,243.2 821.5,251.9 822.3,262.7C823.1,273.5 823.7,289 824.2,299.8C824.7,310.6 824.8,320.6 825.1,327.7C825.4,334.8 825.1,338.9 826,342.5C826.9,346.1 827.5,348.1 830.7,349C834,349.9 840,349.7 845.5,348.1C851,346.6 856.3,343.1 864,339.7C871.7,336.3 882.6,330.8 891.9,327.7C901.2,324.6 912.6,322.1 919.7,321.2C926.8,320.3 931.4,320.7 934.5,322.1C937.6,323.5 937.9,325.5 938.2,329.5C938.5,333.5 937.9,340.9 936.4,346.2C934.9,351.5 932.4,358.8 929,361.1C925.6,363.4 922.2,360.1 916,360.1C909.8,360.1 899,360 891.9,361.1C884.8,362.2 878.2,363.8 873.3,366.6C868.3,369.4 865,373.5 862.2,377.8C859.4,382.1 858.2,388 856.6,392.6C855,397.2 854.8,402.4 852.9,405.6C851,408.9 848.9,411.2 845.5,412.1C842.1,413 838.7,412.2 832.5,411.1C826.3,410 815.5,407.1 808.4,405.6C801.3,404.1 795.4,401.9 789.8,401.9C784.2,401.9 781.2,404.1 775,405.6C768.8,407.1 759.5,409.9 752.7,411.1C745.9,412.3 738.8,413.3 734.2,413C729.6,412.7 726.6,410.9 724.9,409.3C723.2,407.8 723.1,406.5 724,403.7C724.9,400.9 727.6,397.6 730.5,392.6C733.4,387.7 737.9,380.2 741.6,374C745.3,367.8 749.5,361.7 752.7,355.5C756,349.3 758.9,343.1 761.1,336.9C763.3,330.7 764.8,327.7 765.7,318.4C766.6,309.1 766.7,292.1 766.7,281.3C766.7,270.5 766.5,260.3 765.7,253.5C764.9,246.7 764.2,244.1 762,240.5C759.8,236.9 757.3,233.8 752.7,232.1C748.1,230.4 748.5,230.5 734.2,230.3C719.9,230.1 678.2,230.7 667,230.8Z" fill="url(#stl)" clip-path="url(#redclip)"/>
<rect x="778.2" y="15.5" width="25.6" height="352.9" fill="url(#stem)" stroke="#4a4a4a" stroke-width="0.8"/>
<path d="M778.2,367.9 H803.8 L836.8,398.8 H745.2Z" fill="#353535" stroke="#1c1c1c" stroke-width="0.8"/>
<rect x="908.9" y="15.5" width="25.7" height="263.2" fill="url(#stem)" stroke="#4a4a4a" stroke-width="0.8"/>
<path d="M908.9,278.2 H934.6 L967.6,308.5 H875.3Z" fill="#353535" stroke="#1c1c1c" stroke-width="0.8"/>
<rect x="1039.4" y="15.5" width="25.3" height="301" fill="url(#stem)" stroke="#4a4a4a" stroke-width="0.8"/>
<path d="M1039.4,316 H1064.7 L1098,346.8 H1005.8Z" fill="#353535" stroke="#1c1c1c" stroke-width="0.8"/>
<path d="M667,192.3C675.1,192.4 701.3,192.2 715.6,192.6C729.9,193 742.5,194.1 752.7,195C762.9,195.9 772.9,197.3 776.9,197.8" fill="none" stroke="#000" stroke-width="2.5" stroke-dasharray="6.6 4.4"/>
<path d="M804.5,266.5C804.8,269.6 805.5,277.9 806.5,285C807.5,292.1 809,301 810.2,309C811.5,317 812.8,326.4 814,333.2C815.2,340 816.2,345.7 817.7,350C819.2,354.3 820.7,357.1 823.2,359.2C825.7,361.3 828.4,362.5 832.5,362.9C836.6,363.3 845.4,361.9 848,361.7" fill="none" stroke="#000" stroke-width="2.5" stroke-dasharray="6.6 4.4" marker-end="url(#ah)"/>
<path d="M667,224.7C672,224.4 685.9,223.3 697.1,222.9C708.3,222.5 724.9,222.3 734.2,222.5C743.5,222.7 748.1,223.4 752.7,224.2C757.3,225 759.5,225.7 762,227.5C764.5,229.3 766.4,230.6 767.6,234.9C768.8,239.2 769.2,245.8 769.4,253.5C769.5,261.2 769.1,271.1 768.5,281.3C767.9,291.5 766.9,303.9 765.7,314.7C764.5,325.5 763,337.8 761.1,346.2C759.2,354.6 757.2,359.2 754.6,364.8C752,370.4 747.8,376.2 745.3,379.6C742.8,383.1 740.5,384.5 739.5,385.5" fill="none" stroke="#000" stroke-width="2.5" stroke-dasharray="6.6 4.4" marker-end="url(#ah)"/>
</g>
<g id="panel3">
<path d="M1398.2,15.5 V179.3 H1320.9 V235.5 H1398.2 V346.8C1375.5,362.1 1354.2,389.1 1354,414.8V1015.8 H1795 V414.8C1794.8,389.1 1775.8,362.1 1753.1,346.8V235.5 L1830.3,251.9 V160.1 L1753.1,179.3 V15.5H1659.1 V309.7Q1641,305.7 1622.9,306V15.5 H1528.6 V306Q1510.5,305.7 1492.5,309.7V15.5Z" fill="#ececec"/>
<rect x="1353.9" y="582" width="443.6" height="22.6" fill="#fff"/>
<rect x="1353.9" y="622.6" width="443.6" height="23" fill="#fff"/>
<rect x="1353.9" y="662.9" width="443.6" height="22.4" fill="#fff"/>
<path d="M1398.2,15.5 V179.3 H1320.9M1320.9,235.5 H1398.2 V346.8C1375.5,362.1 1354.2,389.1 1354,414.8V1015.8 H1795 V414.8C1794.8,389.1 1775.8,362.1 1753.1,346.8V235.5 L1830.3,251.9M1830.3,160.1 L1753.1,179.3 V15.5M1492.5,15.5 V346.8M1528.6,15.5 V308.2M1622.9,15.5 V308.2M1659.1,15.5 V346.8M1492.5,309.7 Q1510.5,305.7 1528.6,306M1622.9,306 Q1641,305.7 1659.1,309.7" fill="none" stroke="#111" stroke-width="2.05" stroke-linejoin="miter"/>
<g transform="translate(1575.7,525.7) scale(-1,1)">
<rect x="-210" y="40" width="420" height="38.9" fill="url(#gg)" stroke="#454545" stroke-width="0.9"/>
<path d="M-220.3,57.3A221.3,19.1 0 0 1 220.3,57.3V65.6A221.3,19.1 0 0 0 -220.3,65.6Z" fill="url(#gs)" clip-path="url(#gc)"/>
<path d="M-220.3,57.3 L-210,53.3 V61.5 Q-215.3,62.8 -220.3,59.9 Z" fill="#a4a4a4" stroke="#454545" stroke-width="0.7"/>
<path d="M220.3,57.3 L210,53.3 V61.5 Q215.3,62.8 220.3,59.9 Z" fill="#9a9a9a" stroke="#454545" stroke-width="0.7"/>
<rect x="-210" y="81.3" width="420" height="38.6" fill="url(#gg)" stroke="#454545" stroke-width="0.9"/>
<path d="M-220.3,97.9A221.3,18.3 0 0 1 220.3,97.9V106.2A221.3,18.3 0 0 0 -220.3,106.2Z" fill="url(#gs)" clip-path="url(#gc)"/>
<path d="M-220.3,97.9 L-210,94.1 V102.3 Q-215.3,103.4 -220.3,100.5 Z" fill="#a4a4a4" stroke="#454545" stroke-width="0.7"/>
<path d="M220.3,97.9 L210,94.1 V102.3 Q215.3,103.4 220.3,100.5 Z" fill="#9a9a9a" stroke="#454545" stroke-width="0.7"/>
<rect x="-210" y="121" width="420" height="38.6" fill="url(#gg)" stroke="#454545" stroke-width="0.9"/>
<path d="M-220.3,138.2A221.3,19 0 0 1 220.3,138.2V146.5A221.3,19 0 0 0 -220.3,146.5Z" fill="url(#gs)" clip-path="url(#gc)"/>
<path d="M-220.3,138.2 L-210,134.3 V142.5 Q-215.3,143.7 -220.3,140.8 Z" fill="#a4a4a4" stroke="#454545" stroke-width="0.7"/>
<path d="M220.3,138.2 L210,134.3 V142.5 Q215.3,143.7 220.3,140.8 Z" fill="#9a9a9a" stroke="#454545" stroke-width="0.7"/>
<path d="M-220.3,158.6A221.3,19.4 0 0 1 220.3,158.6V477.3 Q220.3,480.3 217.3,480.3 H-217.3 Q-220.3,480.3 -220.3,477.3 Z" fill="url(#pg)" stroke="#454545" stroke-width="0.9"/>
<path d="M220.8,480.6 H212 C204,480.3 201,476.5 199.8,468 C198,450 194,425 181,412.4 C177,409.5 173,408.9 169.8,408.9 H150 C143,408.9 139,405 139,398 V394.2 H-139 V398 C-139,405 -143,408.9 -150,408.9 H-169.8 C-173,408.9 -177,409.5 -181,412.4 C-194,425 -198,450 -199.8,468 C-201,476.5 -204,480.3 -212,480.6 H-220.8" fill="none" stroke="url(#bv)" stroke-width="12" stroke-linejoin="round" clip-path="url(#bvc)"/>
<path d="M212,481.6 V480.6 C204,480.3 201,476.5 199.8,468 C198,450 194,425 181,412.4 C177,409.5 173,408.9 169.8,408.9 H150 C143,408.9 139,405 139,398 V394.2 H-139 V398 C-139,405 -143,408.9 -150,408.9 H-169.8 C-173,408.9 -177,409.5 -181,412.4 C-194,425 -198,450 -199.8,468 C-201,476.5 -204,480.3 -212,480.6 V481.6 Z" fill="#ececec"/>
<path d="M220.8,480.6 H212 C204,480.3 201,476.5 199.8,468 C198,450 194,425 181,412.4 C177,409.5 173,408.9 169.8,408.9 H150 C143,408.9 139,405 139,398 V394.2 H-139 V398 C-139,405 -143,408.9 -150,408.9 H-169.8 C-173,408.9 -177,409.5 -181,412.4 C-194,425 -198,450 -199.8,468 C-201,476.5 -204,480.3 -212,480.6 H-220.8" fill="none" stroke="#555" stroke-width="1.15"/>
<path d="M-155,408.9 V221.5 Q-155,191.5 -125,191.5 H125 Q155,191.5 155,221.5 V408.9 H150 C143,408.9 139,405 139,398 V394.2 H-139 V398 C-139,405 -143,408.9 -150,408.9 Z" fill="url(#rb)"/>
<path d="M-155,408.9 V221.5 Q-155,191.5 -125,191.5 H125 Q155,191.5 155,221.5 V408.9" fill="none" stroke="#e2e2e2" stroke-width="0.9" opacity="0.8"/>
<path d="M-139,394.2 V222 Q-139,207 -124,207 H124 Q139,207 139,222 V394.2 Z" fill="url(#ri)" stroke="#4e4e4e" stroke-width="1"/>
<circle cx="0" cy="301.6" r="86.7" fill="url(#pinO)" stroke="#4a4a4a" stroke-width="1"/>
<circle cx="0" cy="301.6" r="84" fill="none" stroke="#5a5a5a" stroke-width="0.8"/>
<circle cx="0" cy="301.6" r="75.2" fill="#e2e2e2" stroke="#4a4a4a" stroke-width="1"/>
<circle cx="0" cy="301.6" r="72.4" fill="url(#pinI)" stroke="#5a5a5a" stroke-width="0.8"/>
<circle cx="0" cy="301.6" r="45.6" fill="#d9d9dc" stroke="#4a4a4a" stroke-width="0.9"/>
<circle cx="0" cy="301.6" r="41.7" fill="#7d7f84" stroke="#3c3c3c" stroke-width="0.9"/>
<path d="M-220.3,34.8 Q-220.3,27 -213.3,23.1A221.3,31.5 0 0 1 213.3,23.1Q220.3,27 220.3,34.8V57.3A221.3,19.1 0 0 0 -220.3,57.3Z" fill="url(#pg)" stroke="#454545" stroke-width="0.9" stroke-linejoin="round"/>
<path d="M-220.3,77.9A221.3,19.2 0 0 1 220.3,77.9V97.9A221.3,18.3 0 0 0 -220.3,97.9Z" fill="url(#pg)" stroke="#454545" stroke-width="0.9" stroke-linejoin="round"/>
<path d="M-220.3,118.9A221.3,19.4 0 0 1 220.3,118.9V138.2A221.3,19 0 0 0 -220.3,138.2Z" fill="url(#pg)" stroke="#454545" stroke-width="0.9" stroke-linejoin="round"/>
</g>
<path d="M1354,414.8 V1015.8" fill="none" stroke="#111" stroke-width="2.05"/>
<clipPath id="rc2"><rect x="1225.7" y="919.9" width="700" height="192.9"/></clipPath>
<g clip-path="url(#rc2)"><g transform="translate(1575.7,525.7) scale(-1,1)">
<path d="M-92.2,394.2 Q-129.9,492.6 -191.5,591 L-209.7,620 H-80.6 L-61.9,591 Q1.5,492.6 82.9,394.2Z" fill="url(#rodO)" stroke="#444" stroke-width="0.9"/>
<path d="M-175.7,620 L-82.1,432.9 Q-78,424 -68.5,424.5 Q-64,425 -60,427.5 L-18,452 Q-11,456 -9.9,461 Q-8.5,464.5 -10.5,466.4 L-110.3,620Z" fill="url(#rodI)" stroke="#444" stroke-width="0.9"/>
</g></g>
<path d="M1354.5,467.8 L1366.1,454.7 L1368,475.2 L1354.5,473.4Z" fill="#c43d33"/>
<path d="M1487.3,374.6C1488.5,369.8 1490,366.8 1494.7,364.3C1499.4,361.8 1503.7,360.9 1515.2,359.7C1526.7,358.5 1549.4,356.8 1563.7,356.9C1578,357 1589.8,358.9 1601,360.6C1612.2,362.3 1624.6,365.1 1630.8,367.1C1637,369.1 1636.9,370.8 1638.3,372.7C1639.7,374.6 1640.1,377.2 1639.2,378.3C1638.3,379.4 1634.5,378.1 1632.7,379.2C1630.9,380.3 1629.1,382.8 1628.6,384.8C1628.1,386.8 1628.3,389.8 1629.9,391.3C1631.5,392.9 1633.8,393.3 1638.3,394.1C1642.8,394.9 1650.7,394.8 1656.9,396C1663.1,397.2 1669.4,399.3 1675.6,401.6C1681.8,403.9 1684.9,405.8 1694.2,410C1703.5,414.2 1720.6,421.8 1731.5,426.8C1742.4,431.8 1753.1,435.8 1759.5,439.8C1765.9,443.8 1767.8,447.3 1769.7,451C1771.6,454.7 1771.8,459.4 1770.7,462.2C1769.6,465 1768.2,467.5 1763.2,467.8C1758.2,468.1 1749.2,465.4 1740.8,464.1C1732.4,462.9 1720.7,461.2 1712.9,460.3C1705.1,459.4 1700.4,458.6 1694.2,458.5C1688,458.4 1684.9,459.7 1675.6,459.4C1666.3,459.1 1650.7,456.9 1638.3,456.6C1625.9,456.3 1613.4,457 1601,457.5C1588.6,458 1574.6,458.6 1563.7,459.4C1552.8,460.2 1543.6,461.1 1535.8,462.2C1528,463.3 1528,465 1517.1,465.9C1506.2,466.8 1481.4,470 1470.5,467.8C1459.6,465.6 1456.9,457.9 1451.9,452.9C1446.9,447.9 1443.8,442.4 1440.7,438C1437.6,433.6 1434.8,429.9 1433.2,426.8C1431.7,423.7 1429.5,420.2 1431.4,419.3C1433.3,418.4 1437.9,421.2 1444.4,421.2C1450.9,421.2 1463.7,422.1 1470.5,419.3C1477.3,416.5 1482.6,408.8 1485.4,404.4C1488.2,400 1487,398.2 1487.3,393.2C1487.6,388.2 1486.1,379.4 1487.3,374.6Z" fill="#c43d33"/>
<path d="M1543.1,364.3 L1547.9,364.3 L1546,398.8Z" fill="#eaf2fa"/>
<path d="M1486.5,389.8 L1487.1,393.8 L1519.9,397.9Z" fill="#eaf2fa"/>
<path d="M1615.6,363.6 L1619.1,364.4 L1608.5,382Z" fill="#eaf2fa"/>
<path d="M1692.3,400.2 L1692.3,404.8 L1614,402.5Z" fill="#eaf2fa"/>
<path d="M1443.1,439.3 L1450.5,446 L1505.9,417.4Z" fill="#eaf2fa"/>
<path d="M1574.7,469 L1582.8,469 L1569.3,428.6Z" fill="#eaf2fa"/>
<path d="M1531.5,463.1 L1538.2,466 L1550.7,441.7Z" fill="#eaf2fa"/>
<path d="M1643.1,468.2 L1649.3,466.5 L1634.6,443.5Z" fill="#eaf2fa"/>
<path d="M1705.2,465 L1718.7,467.9 L1660.7,428.6Z" fill="#eaf2fa"/>
<path d="M1507.8,415.6C1508.6,409.4 1512.6,397.4 1515.2,393.2C1517.8,389 1520.2,390.1 1523.6,390.4C1527,390.7 1531.9,393.7 1535.8,395.1C1539.7,396.5 1544.1,400.1 1546.9,398.8C1549.7,397.6 1549.7,391.2 1552.5,387.6C1555.3,384 1559.7,379.7 1563.7,377.4C1567.8,375.1 1572.1,373.8 1576.8,373.6C1581.5,373.4 1587,375.3 1591.7,376.4C1596.4,377.5 1601.8,378 1604.7,380.2C1607.7,382.4 1608.5,385.5 1609.4,389.5C1610.3,393.5 1609.8,400.7 1610.3,404.4C1610.8,408.1 1608.8,410.3 1612.2,411.9C1615.6,413.4 1624.6,412.8 1630.8,413.7C1637,414.6 1644.8,415.5 1649.5,417.4C1654.2,419.3 1656.9,422.1 1658.8,424.9C1660.7,427.7 1661.3,431.9 1660.7,434.2C1660.1,436.5 1658.8,437.6 1655.1,438.9C1651.4,440.1 1644.8,440.9 1638.3,441.7C1631.8,442.5 1622.1,442.6 1615.9,443.5C1609.7,444.4 1604.7,447.6 1601,447.3C1597.3,447 1596.3,444.5 1593.5,441.7C1590.7,438.9 1588.2,433 1584.2,430.5C1580.2,428 1573.7,426.8 1569.3,426.8C1564.9,426.8 1561.2,428.3 1558.1,430.5C1555,432.7 1553.5,437 1550.7,439.8C1547.9,442.6 1545.3,446.1 1541.3,447.3C1537.2,448.6 1530.8,448.2 1526.4,447.3C1522.1,446.4 1517.8,444.5 1515.2,441.7C1512.6,438.9 1511.8,434.9 1510.6,430.5C1509.4,426.1 1507,421.8 1507.8,415.6Z" fill="url(#pur)"/>
<rect x="1432.2" y="15.5" width="25.7" height="300.3" fill="url(#stem)" stroke="#4a4a4a" stroke-width="0.8"/>
<path d="M1432.2,315.3 H1457.9 L1491.5,346.8 H1399.2Z" fill="#353535" stroke="#1c1c1c" stroke-width="0.8"/>
<rect x="1562.6" y="15.5" width="25.7" height="262.3" fill="url(#stem)" stroke="#4a4a4a" stroke-width="0.8"/>
<path d="M1562.6,277.3 H1588.3 L1621.9,308.2 H1529.6Z" fill="#353535" stroke="#1c1c1c" stroke-width="0.8"/>
<rect x="1693.4" y="15.5" width="25.6" height="300.3" fill="url(#stem)" stroke="#4a4a4a" stroke-width="0.8"/>
<path d="M1693.4,315.3 H1719 L1752.1,346.8 H1660.1Z" fill="#353535" stroke="#1c1c1c" stroke-width="0.8"/>
<path d="M1514.2,347A7.4,7.4 0 0 1 1515.5,334.1A8,8 0 0 1 1524.3,323.5A8,8 0 0 1 1536.4,317A8.8,8.8 0 0 1 1551.5,320.8A6.7,6.7 0 0 1 1560.1,327.5A9.4,9.4 0 0 1 1566.9,341.2A6.6,6.6 0 0 1 1565,351.1A11.9,11.9 0 0 1 1549.4,362.1A8.1,8.1 0 0 1 1536.7,361.7A7,7 0 0 1 1525.7,359.1A10.7,10.7 0 0 1 1514.2,347Z" fill="#eef6fd" filter="url(#bl)" opacity="0.9"/>
<path d="M1514.2,347A7.4,7.4 0 0 1 1515.5,334.1A8,8 0 0 1 1524.3,323.5A8,8 0 0 1 1536.4,317A8.8,8.8 0 0 1 1551.5,320.8A6.7,6.7 0 0 1 1560.1,327.5A9.4,9.4 0 0 1 1566.9,341.2A6.6,6.6 0 0 1 1565,351.1A11.9,11.9 0 0 1 1549.4,362.1A8.1,8.1 0 0 1 1536.7,361.7A7,7 0 0 1 1525.7,359.1A10.7,10.7 0 0 1 1514.2,347Z" transform="translate(1.3,2.5)" fill="#1f70a9"/>
<path d="M1514.2,347A7.4,7.4 0 0 1 1515.5,334.1A8,8 0 0 1 1524.3,323.5A8,8 0 0 1 1536.4,317A8.8,8.8 0 0 1 1551.5,320.8A6.7,6.7 0 0 1 1560.1,327.5A9.4,9.4 0 0 1 1566.9,341.2A6.6,6.6 0 0 1 1565,351.1A11.9,11.9 0 0 1 1549.4,362.1A8.1,8.1 0 0 1 1536.7,361.7A7,7 0 0 1 1525.7,359.1A10.7,10.7 0 0 1 1514.2,347Z" fill="url(#clu)"/>
<path d="M1531.1,342.4A4.5,4.5 0 0 1 1538.7,342.2M1548.3,329.1A3.2,3.2 0 0 1 1549,334.6M1538.6,346.4A4.1,4.1 0 0 1 1533,350.4M1546.6,332.1A4.4,4.4 0 0 1 1550.9,326M1549.3,340.1A4.3,4.3 0 0 1 1542.1,341.5" fill="none" stroke="#2f86c9" stroke-width="1.1" stroke-linecap="round"/>
<path d="M1599.2,343.1A5.2,5.2 0 0 1 1602.4,334.4A6.9,6.9 0 0 1 1610.1,325A10.1,10.1 0 0 1 1624.5,320.4A7.8,7.8 0 0 1 1636.5,323.9A6.8,6.8 0 0 1 1644.2,333A6.6,6.6 0 0 1 1646,342.6A8.5,8.5 0 0 1 1639.3,353.4A6.7,6.7 0 0 1 1628.7,358.4A7.5,7.5 0 0 1 1616.4,358.8A6.9,6.9 0 0 1 1605.1,354.5A7.7,7.7 0 0 1 1599.2,343.1Z" fill="#eef6fd" filter="url(#bl)" opacity="0.9"/>
<path d="M1599.2,343.1A5.2,5.2 0 0 1 1602.4,334.4A6.9,6.9 0 0 1 1610.1,325A10.1,10.1 0 0 1 1624.5,320.4A7.8,7.8 0 0 1 1636.5,323.9A6.8,6.8 0 0 1 1644.2,333A6.6,6.6 0 0 1 1646,342.6A8.5,8.5 0 0 1 1639.3,353.4A6.7,6.7 0 0 1 1628.7,358.4A7.5,7.5 0 0 1 1616.4,358.8A6.9,6.9 0 0 1 1605.1,354.5A7.7,7.7 0 0 1 1599.2,343.1Z" transform="translate(-1.3,2.5)" fill="#1f70a9"/>
<path d="M1599.2,343.1A5.2,5.2 0 0 1 1602.4,334.4A6.9,6.9 0 0 1 1610.1,325A10.1,10.1 0 0 1 1624.5,320.4A7.8,7.8 0 0 1 1636.5,323.9A6.8,6.8 0 0 1 1644.2,333A6.6,6.6 0 0 1 1646,342.6A8.5,8.5 0 0 1 1639.3,353.4A6.7,6.7 0 0 1 1628.7,358.4A7.5,7.5 0 0 1 1616.4,358.8A6.9,6.9 0 0 1 1605.1,354.5A7.7,7.7 0 0 1 1599.2,343.1Z" fill="url(#cl)"/>
<path d="M1617.8,336.1A3.8,3.8 0 0 1 1623.9,338.1M1630.4,351.2A3.2,3.2 0 0 1 1625.6,353.8M1614.3,335.3A3.2,3.2 0 0 1 1619.6,336.4M1621,327.2A4.2,4.2 0 0 1 1617.3,321" fill="none" stroke="#2f86c9" stroke-width="1.1" stroke-linecap="round"/>
<path d="M1450.6,421.1A8.8,8.8 0 0 1 1439.8,413.1A6.2,6.2 0 0 1 1434.3,404.1A10.2,10.2 0 0 1 1429.6,389.4A9.5,9.5 0 0 1 1433.1,374.4A9.1,9.1 0 0 1 1441.9,363.5A8.5,8.5 0 0 1 1453.8,357.1A8.5,8.5 0 0 1 1464.6,365.7A7,7 0 0 1 1471.4,375.1A11.7,11.7 0 0 1 1476,393.7A9.4,9.4 0 0 1 1471.6,408.9A8.1,8.1 0 0 1 1462.5,419.6A7.9,7.9 0 0 1 1450.6,421.1Z" fill="#eef6fd" filter="url(#bl)" opacity="0.9"/>
<path d="M1450.6,421.1A8.8,8.8 0 0 1 1439.8,413.1A6.2,6.2 0 0 1 1434.3,404.1A10.2,10.2 0 0 1 1429.6,389.4A9.5,9.5 0 0 1 1433.1,374.4A9.1,9.1 0 0 1 1441.9,363.5A8.5,8.5 0 0 1 1453.8,357.1A8.5,8.5 0 0 1 1464.6,365.7A7,7 0 0 1 1471.4,375.1A11.7,11.7 0 0 1 1476,393.7A9.4,9.4 0 0 1 1471.6,408.9A8.1,8.1 0 0 1 1462.5,419.6A7.9,7.9 0 0 1 1450.6,421.1Z" transform="translate(2.7,0.6)" fill="#1f70a9"/>
<path d="M1450.6,421.1A8.8,8.8 0 0 1 1439.8,413.1A6.2,6.2 0 0 1 1434.3,404.1A10.2,10.2 0 0 1 1429.6,389.4A9.5,9.5 0 0 1 1433.1,374.4A9.1,9.1 0 0 1 1441.9,363.5A8.5,8.5 0 0 1 1453.8,357.1A8.5,8.5 0 0 1 1464.6,365.7A7,7 0 0 1 1471.4,375.1A11.7,11.7 0 0 1 1476,393.7A9.4,9.4 0 0 1 1471.6,408.9A8.1,8.1 0 0 1 1462.5,419.6A7.9,7.9 0 0 1 1450.6,421.1Z" fill="url(#cl)"/>
<path d="M1457.5,369A3.9,3.9 0 0 1 1451.2,366.8M1452.7,379.9A3.9,3.9 0 0 1 1446.6,382.2M1456.2,399A3.6,3.6 0 0 1 1456.1,405.1M1441.4,393.6A3.4,3.4 0 0 1 1445.3,397.8M1444.8,390.1A3.1,3.1 0 0 1 1446.6,395.1" fill="none" stroke="#2f86c9" stroke-width="1.1" stroke-linecap="round"/>
<path d="M1450.7,497.8A14.2,14.2 0 0 1 1429.2,509A11,11 0 0 1 1413.7,514.2A15.8,15.8 0 0 1 1389.6,504.3A14.7,14.7 0 0 1 1374.2,489A13.3,13.3 0 0 1 1370.4,467.7A11,11 0 0 1 1368.7,450.4A15.8,15.8 0 0 1 1386,434.2A16.7,16.7 0 0 1 1409.2,422.3A9.5,9.5 0 0 1 1425.7,423.8A16.5,16.5 0 0 1 1447.3,438.7A13.1,13.1 0 0 1 1457.3,456.6A10.3,10.3 0 0 1 1458,474.3A14,14 0 0 1 1450.7,497.8Z" fill="#eef6fd" filter="url(#bl)" opacity="0.9"/>
<path d="M1450.7,497.8A14.2,14.2 0 0 1 1429.2,509A11,11 0 0 1 1413.7,514.2A15.8,15.8 0 0 1 1389.6,504.3A14.7,14.7 0 0 1 1374.2,489A13.3,13.3 0 0 1 1370.4,467.7A11,11 0 0 1 1368.7,450.4A15.8,15.8 0 0 1 1386,434.2A16.7,16.7 0 0 1 1409.2,422.3A9.5,9.5 0 0 1 1425.7,423.8A16.5,16.5 0 0 1 1447.3,438.7A13.1,13.1 0 0 1 1457.3,456.6A10.3,10.3 0 0 1 1458,474.3A14,14 0 0 1 1450.7,497.8Z" transform="translate(3.5,-1)" fill="#1f70a9"/>
<path d="M1450.7,497.8A14.2,14.2 0 0 1 1429.2,509A11,11 0 0 1 1413.7,514.2A15.8,15.8 0 0 1 1389.6,504.3A14.7,14.7 0 0 1 1374.2,489A13.3,13.3 0 0 1 1370.4,467.7A11,11 0 0 1 1368.7,450.4A15.8,15.8 0 0 1 1386,434.2A16.7,16.7 0 0 1 1409.2,422.3A9.5,9.5 0 0 1 1425.7,423.8A16.5,16.5 0 0 1 1447.3,438.7A13.1,13.1 0 0 1 1457.3,456.6A10.3,10.3 0 0 1 1458,474.3A14,14 0 0 1 1450.7,497.8Z" fill="url(#cl)"/>
<path d="M1430.5,452.5A3.9,3.9 0 0 1 1424.1,454.4M1420.2,494.6A4.6,4.6 0 0 1 1426.6,499.4M1420.2,455.9A4.1,4.1 0 0 1 1427.1,457.2M1413.7,454.3A4.7,4.7 0 0 1 1420.4,458.7M1388.7,470.9A4.7,4.7 0 0 1 1381,473.1M1393.8,469.7A4.9,4.9 0 0 1 1400.7,474.3M1398.2,470.4A5.5,5.5 0 0 1 1406.8,466.9" fill="none" stroke="#2f86c9" stroke-width="1.1" stroke-linecap="round"/>
<path d="M1541.9,476.9A9.6,9.6 0 0 1 1543.6,493.8A9.7,9.7 0 0 1 1535.7,507.1A12.5,12.5 0 0 1 1517.4,516.8A11.4,11.4 0 0 1 1499.7,512.5A8.1,8.1 0 0 1 1488.7,507.6A9.6,9.6 0 0 1 1482.6,493.8A9.3,9.3 0 0 1 1480,478.7A13.3,13.3 0 0 1 1491.6,462.3A8.5,8.5 0 0 1 1502.6,456.4A11.2,11.2 0 0 1 1520.5,459.4A10.2,10.2 0 0 1 1533.9,466.5A7.4,7.4 0 0 1 1541.9,476.9Z" fill="#eef6fd" filter="url(#bl)" opacity="0.9"/>
<path d="M1541.9,476.9A9.6,9.6 0 0 1 1543.6,493.8A9.7,9.7 0 0 1 1535.7,507.1A12.5,12.5 0 0 1 1517.4,516.8A11.4,11.4 0 0 1 1499.7,512.5A8.1,8.1 0 0 1 1488.7,507.6A9.6,9.6 0 0 1 1482.6,493.8A9.3,9.3 0 0 1 1480,478.7A13.3,13.3 0 0 1 1491.6,462.3A8.5,8.5 0 0 1 1502.6,456.4A11.2,11.2 0 0 1 1520.5,459.4A10.2,10.2 0 0 1 1533.9,466.5A7.4,7.4 0 0 1 1541.9,476.9Z" transform="translate(2.1,-1.9)" fill="#1f70a9"/>
<path d="M1541.9,476.9A9.6,9.6 0 0 1 1543.6,493.8A9.7,9.7 0 0 1 1535.7,507.1A12.5,12.5 0 0 1 1517.4,516.8A11.4,11.4 0 0 1 1499.7,512.5A8.1,8.1 0 0 1 1488.7,507.6A9.6,9.6 0 0 1 1482.6,493.8A9.3,9.3 0 0 1 1480,478.7A13.3,13.3 0 0 1 1491.6,462.3A8.5,8.5 0 0 1 1502.6,456.4A11.2,11.2 0 0 1 1520.5,459.4A10.2,10.2 0 0 1 1533.9,466.5A7.4,7.4 0 0 1 1541.9,476.9Z" fill="url(#cl)"/>
<path d="M1517.9,493.8A4.7,4.7 0 0 1 1515,486.4M1509.2,475.4A3.9,3.9 0 0 1 1514.2,471.2M1519.1,491.6A3,3 0 0 1 1514.1,492.6M1519.8,474A3.7,3.7 0 0 1 1513.6,473.9M1520.5,504.4A3.6,3.6 0 0 1 1521.1,510.5" fill="none" stroke="#2f86c9" stroke-width="1.1" stroke-linecap="round"/>
<path d="M1546.1,512.2A9.1,9.1 0 0 1 1533.6,504.2A7.3,7.3 0 0 1 1530.3,493.2A7.8,7.8 0 0 1 1537.4,484A7.1,7.1 0 0 1 1546.9,476.8A9.8,9.8 0 0 1 1563.4,471.2A16.1,16.1 0 0 1 1587.1,470.7A15.6,15.6 0 0 1 1609.4,478.6A10.5,10.5 0 0 1 1623.5,486.3A6.1,6.1 0 0 1 1621.1,495.8A5.6,5.6 0 0 1 1620,505.2A9.1,9.1 0 0 1 1605.7,511.9A11.3,11.3 0 0 1 1587.3,516.5A15.4,15.4 0 0 1 1562.2,516.3A9.4,9.4 0 0 1 1546.1,512.2Z" fill="#eef6fd" filter="url(#bl)" opacity="0.9"/>
<path d="M1546.1,512.2A9.1,9.1 0 0 1 1533.6,504.2A7.3,7.3 0 0 1 1530.3,493.2A7.8,7.8 0 0 1 1537.4,484A7.1,7.1 0 0 1 1546.9,476.8A9.8,9.8 0 0 1 1563.4,471.2A16.1,16.1 0 0 1 1587.1,470.7A15.6,15.6 0 0 1 1609.4,478.6A10.5,10.5 0 0 1 1623.5,486.3A6.1,6.1 0 0 1 1621.1,495.8A5.6,5.6 0 0 1 1620,505.2A9.1,9.1 0 0 1 1605.7,511.9A11.3,11.3 0 0 1 1587.3,516.5A15.4,15.4 0 0 1 1562.2,516.3A9.4,9.4 0 0 1 1546.1,512.2Z" transform="translate(0.2,-2.8)" fill="#1f70a9"/>
<path d="M1546.1,512.2A9.1,9.1 0 0 1 1533.6,504.2A7.3,7.3 0 0 1 1530.3,493.2A7.8,7.8 0 0 1 1537.4,484A7.1,7.1 0 0 1 1546.9,476.8A9.8,9.8 0 0 1 1563.4,471.2A16.1,16.1 0 0 1 1587.1,470.7A15.6,15.6 0 0 1 1609.4,478.6A10.5,10.5 0 0 1 1623.5,486.3A6.1,6.1 0 0 1 1621.1,495.8A5.6,5.6 0 0 1 1620,505.2A9.1,9.1 0 0 1 1605.7,511.9A11.3,11.3 0 0 1 1587.3,516.5A15.4,15.4 0 0 1 1562.2,516.3A9.4,9.4 0 0 1 1546.1,512.2Z" fill="url(#cl)"/>
<path d="M1567.8,481.7A2.7,2.7 0 0 1 1570.4,477.8M1544.8,495.3A3.6,3.6 0 0 1 1546.5,489.5M1552.4,498A3.6,3.6 0 0 1 1558.4,498.9M1587,501A3.5,3.5 0 0 1 1583,505.3M1551.1,491.4A3.4,3.4 0 0 1 1548.6,496.7M1544.1,493.4A4.1,4.1 0 0 1 1540.1,487.6" fill="none" stroke="#2f86c9" stroke-width="1.1" stroke-linecap="round"/>
<path d="M1635.7,485.7A6.4,6.4 0 0 1 1640.4,476.6A9.2,9.2 0 0 1 1651.8,469.2A5.3,5.3 0 0 1 1660.7,470.8A7.8,7.8 0 0 1 1672.4,475.4A7.7,7.7 0 0 1 1676.8,486A8,8 0 0 1 1676.6,498.6A8.6,8.6 0 0 1 1666.3,508.7A6.4,6.4 0 0 1 1655.1,510A7.3,7.3 0 0 1 1644.3,508.3A5.8,5.8 0 0 1 1638.6,500.7A10.4,10.4 0 0 1 1635.7,485.7Z" fill="#eef6fd" filter="url(#bl)" opacity="0.9"/>
<path d="M1635.7,485.7A6.4,6.4 0 0 1 1640.4,476.6A9.2,9.2 0 0 1 1651.8,469.2A5.3,5.3 0 0 1 1660.7,470.8A7.8,7.8 0 0 1 1672.4,475.4A7.7,7.7 0 0 1 1676.8,486A8,8 0 0 1 1676.6,498.6A8.6,8.6 0 0 1 1666.3,508.7A6.4,6.4 0 0 1 1655.1,510A7.3,7.3 0 0 1 1644.3,508.3A5.8,5.8 0 0 1 1638.6,500.7A10.4,10.4 0 0 1 1635.7,485.7Z" transform="translate(-2,-1.9)" fill="#1f70a9"/>
<path d="M1635.7,485.7A6.4,6.4 0 0 1 1640.4,476.6A9.2,9.2 0 0 1 1651.8,469.2A5.3,5.3 0 0 1 1660.7,470.8A7.8,7.8 0 0 1 1672.4,475.4A7.7,7.7 0 0 1 1676.8,486A8,8 0 0 1 1676.6,498.6A8.6,8.6 0 0 1 1666.3,508.7A6.4,6.4 0 0 1 1655.1,510A7.3,7.3 0 0 1 1644.3,508.3A5.8,5.8 0 0 1 1638.6,500.7A10.4,10.4 0 0 1 1635.7,485.7Z" fill="url(#cl)"/>
<path d="M1664.8,500.4A4,4 0 0 1 1670.7,497.1M1665.3,491.2A2.7,2.7 0 0 1 1665.4,486.7M1648.4,501.7A3.2,3.2 0 0 1 1649.3,496.3M1661.8,484.6A3.5,3.5 0 0 1 1667.6,483" fill="none" stroke="#2f86c9" stroke-width="1.1" stroke-linecap="round"/>
<path d="M1759.2,517.4A8.5,8.5 0 0 1 1745.3,520.6A10.8,10.8 0 0 1 1727,514.6A11.2,11.2 0 0 1 1716.9,501.6A9.1,9.1 0 0 1 1711.8,486.9A11.4,11.4 0 0 1 1717.5,470.1A13,13 0 0 1 1733.4,456.7A11.9,11.9 0 0 1 1752.2,457.7A8.1,8.1 0 0 1 1765,460.1A12.6,12.6 0 0 1 1776,475.8A11.2,11.2 0 0 1 1781.6,492.6A10.9,10.9 0 0 1 1771.5,507.9A8.9,8.9 0 0 1 1759.2,517.4Z" fill="#eef6fd" filter="url(#bl)" opacity="0.9"/>
<path d="M1759.2,517.4A8.5,8.5 0 0 1 1745.3,520.6A10.8,10.8 0 0 1 1727,514.6A11.2,11.2 0 0 1 1716.9,501.6A9.1,9.1 0 0 1 1711.8,486.9A11.4,11.4 0 0 1 1717.5,470.1A13,13 0 0 1 1733.4,456.7A11.9,11.9 0 0 1 1752.2,457.7A8.1,8.1 0 0 1 1765,460.1A12.6,12.6 0 0 1 1776,475.8A11.2,11.2 0 0 1 1781.6,492.6A10.9,10.9 0 0 1 1771.5,507.9A8.9,8.9 0 0 1 1759.2,517.4Z" transform="translate(-3,-1.2)" fill="#1f70a9"/>
<path d="M1759.2,517.4A8.5,8.5 0 0 1 1745.3,520.6A10.8,10.8 0 0 1 1727,514.6A11.2,11.2 0 0 1 1716.9,501.6A9.1,9.1 0 0 1 1711.8,486.9A11.4,11.4 0 0 1 1717.5,470.1A13,13 0 0 1 1733.4,456.7A11.9,11.9 0 0 1 1752.2,457.7A8.1,8.1 0 0 1 1765,460.1A12.6,12.6 0 0 1 1776,475.8A11.2,11.2 0 0 1 1781.6,492.6A10.9,10.9 0 0 1 1771.5,507.9A8.9,8.9 0 0 1 1759.2,517.4Z" fill="url(#cl2)"/>
<path d="M1724.2,491.3A3.3,3.3 0 0 1 1721.9,486.2M1739,480.7A3.4,3.4 0 0 1 1736.7,475.3M1732.9,493.7A4,4 0 0 1 1738.4,497.7M1741.5,472.3A4.1,4.1 0 0 1 1737.8,478.2M1754.3,469.7A4.1,4.1 0 0 1 1760.2,473.4M1752.8,496.5A3.2,3.2 0 0 1 1749.6,492.2" fill="none" stroke="#2f86c9" stroke-width="1.1" stroke-linecap="round"/>
<path d="M1714.4,375.1A10.2,10.2 0 0 1 1730.1,373.1A13.2,13.2 0 0 1 1748.8,380.8A6.9,6.9 0 0 1 1756.3,389.4A11,11 0 0 1 1761.1,405.9A9.8,9.8 0 0 1 1755.4,421.3A11.4,11.4 0 0 1 1743.5,433.4A12.3,12.3 0 0 1 1725.2,436.6A9,9 0 0 1 1712,432.8A13.3,13.3 0 0 1 1697.6,419.3A10.9,10.9 0 0 1 1692.5,401.5A9.6,9.6 0 0 1 1700.7,388.6A12.5,12.5 0 0 1 1714.4,375.1Z" fill="#eef6fd" filter="url(#bl)" opacity="0.9"/>
<path d="M1714.4,375.1A10.2,10.2 0 0 1 1730.1,373.1A13.2,13.2 0 0 1 1748.8,380.8A6.9,6.9 0 0 1 1756.3,389.4A11,11 0 0 1 1761.1,405.9A9.8,9.8 0 0 1 1755.4,421.3A11.4,11.4 0 0 1 1743.5,433.4A12.3,12.3 0 0 1 1725.2,436.6A9,9 0 0 1 1712,432.8A13.3,13.3 0 0 1 1697.6,419.3A10.9,10.9 0 0 1 1692.5,401.5A9.6,9.6 0 0 1 1700.7,388.6A12.5,12.5 0 0 1 1714.4,375.1Z" transform="translate(-3.2,0.3)" fill="#1f70a9"/>
<path d="M1714.4,375.1A10.2,10.2 0 0 1 1730.1,373.1A13.2,13.2 0 0 1 1748.8,380.8A6.9,6.9 0 0 1 1756.3,389.4A11,11 0 0 1 1761.1,405.9A9.8,9.8 0 0 1 1755.4,421.3A11.4,11.4 0 0 1 1743.5,433.4A12.3,12.3 0 0 1 1725.2,436.6A9,9 0 0 1 1712,432.8A13.3,13.3 0 0 1 1697.6,419.3A10.9,10.9 0 0 1 1692.5,401.5A9.6,9.6 0 0 1 1700.7,388.6A12.5,12.5 0 0 1 1714.4,375.1Z" fill="url(#cl2)"/>
<path d="M1732.4,392.1A3.3,3.3 0 0 1 1728.5,388.1M1743.1,416.6A3,3 0 0 1 1738.1,418.1M1717.5,406.6A4,4 0 0 1 1710.7,406.6M1712.6,421A4.8,4.8 0 0 1 1718.9,415.8M1728.1,413.9A3.8,3.8 0 0 1 1733,418.1M1724.3,393.7A3.3,3.3 0 0 1 1723.1,399.2" fill="none" stroke="#2f86c9" stroke-width="1.1" stroke-linecap="round"/>
<path d="M1507.8,443.5 L1435.3,509.7" fill="none" stroke="#000" stroke-width="2.5" stroke-dasharray="6.6 4.4" marker-end="url(#ah)"/>
<path d="M1583.3,438.9 L1583.3,496.4" fill="none" stroke="#000" stroke-width="2.5" stroke-dasharray="6.6 4.4" marker-end="url(#ah)"/>
<path d="M1660.7,438.9 L1715.2,503.4" fill="none" stroke="#000" stroke-width="2.5" stroke-dasharray="6.6 4.4" marker-end="url(#ah)"/>
</g>
<g id="panel4">
<path d="M2048.8,15.5 V176.8 H1972.1 V233.4 H2048.8 V344.7C2026.1,360 2006.8,387 2006.6,412.7V1012.3 H2447 V412.7C2446.8,387 2426.4,360 2403.7,344.7V233.4 L2481,249.5 V157.7 L2403.7,176.8 V15.5H2310 V307Q2291.8,302.7 2273.5,303V15.5 H2179.6 V303Q2161.3,302.7 2143.1,307V15.5Z" fill="#ececec"/>
<rect x="2005" y="452.4" width="443.6" height="22.6" fill="#fff"/>
<rect x="2005" y="493" width="443.6" height="23" fill="#fff"/>
<rect x="2005" y="533.3" width="443.6" height="22.4" fill="#fff"/>
<path d="M2048.8,15.5 V176.8 H1972.1M1972.1,233.4 H2048.8 V344.7C2026.1,360 2006.8,387 2006.6,412.7V1012.3 H2447 V412.7C2446.8,387 2426.4,360 2403.7,344.7V233.4 L2481,249.5M2481,157.7 L2403.7,176.8 V15.5M2143.1,15.5 V344.7M2179.6,15.5 V305.4M2273.5,15.5 V305.4M2310,15.5 V342M2143.1,307 Q2161.3,302.7 2179.6,303M2273.5,303 Q2291.8,302.7 2310,307" fill="none" stroke="#111" stroke-width="2.05" stroke-linejoin="miter"/>
<g transform="translate(2226.8,396.1)">
<rect x="-210" y="40" width="420" height="38.9" fill="url(#gg)" stroke="#454545" stroke-width="0.9"/>
<path d="M-220.3,57.3A221.3,19.1 0 0 1 220.3,57.3V65.6A221.3,19.1 0 0 0 -220.3,65.6Z" fill="url(#gs)" clip-path="url(#gc)"/>
<path d="M-220.3,57.3 L-210,53.3 V61.5 Q-215.3,62.8 -220.3,59.9 Z" fill="#a4a4a4" stroke="#454545" stroke-width="0.7"/>
<path d="M220.3,57.3 L210,53.3 V61.5 Q215.3,62.8 220.3,59.9 Z" fill="#9a9a9a" stroke="#454545" stroke-width="0.7"/>
<rect x="-210" y="81.3" width="420" height="38.6" fill="url(#gg)" stroke="#454545" stroke-width="0.9"/>
<path d="M-220.3,97.9A221.3,18.3 0 0 1 220.3,97.9V106.2A221.3,18.3 0 0 0 -220.3,106.2Z" fill="url(#gs)" clip-path="url(#gc)"/>
<path d="M-220.3,97.9 L-210,94.1 V102.3 Q-215.3,103.4 -220.3,100.5 Z" fill="#a4a4a4" stroke="#454545" stroke-width="0.7"/>
<path d="M220.3,97.9 L210,94.1 V102.3 Q215.3,103.4 220.3,100.5 Z" fill="#9a9a9a" stroke="#454545" stroke-width="0.7"/>
<rect x="-210" y="121" width="420" height="38.6" fill="url(#gg)" stroke="#454545" stroke-width="0.9"/>
<path d="M-220.3,138.2A221.3,19 0 0 1 220.3,138.2V146.5A221.3,19 0 0 0 -220.3,146.5Z" fill="url(#gs)" clip-path="url(#gc)"/>
<path d="M-220.3,138.2 L-210,134.3 V142.5 Q-215.3,143.7 -220.3,140.8 Z" fill="#a4a4a4" stroke="#454545" stroke-width="0.7"/>
<path d="M220.3,138.2 L210,134.3 V142.5 Q215.3,143.7 220.3,140.8 Z" fill="#9a9a9a" stroke="#454545" stroke-width="0.7"/>
<path d="M-220.3,158.6A221.3,19.4 0 0 1 220.3,158.6V477.3 Q220.3,480.3 217.3,480.3 H-217.3 Q-220.3,480.3 -220.3,477.3 Z" fill="url(#pg)" stroke="#454545" stroke-width="0.9"/>
<path d="M220.8,480.6 H212 C204,480.3 201,476.5 199.8,468 C198,450 194,425 181,412.4 C177,409.5 173,408.9 169.8,408.9 H150 C143,408.9 139,405 139,398 V394.2 H-139 V398 C-139,405 -143,408.9 -150,408.9 H-169.8 C-173,408.9 -177,409.5 -181,412.4 C-194,425 -198,450 -199.8,468 C-201,476.5 -204,480.3 -212,480.6 H-220.8" fill="none" stroke="url(#bv)" stroke-width="12" stroke-linejoin="round" clip-path="url(#bvc)"/>
<path d="M212,481.6 V480.6 C204,480.3 201,476.5 199.8,468 C198,450 194,425 181,412.4 C177,409.5 173,408.9 169.8,408.9 H150 C143,408.9 139,405 139,398 V394.2 H-139 V398 C-139,405 -143,408.9 -150,408.9 H-169.8 C-173,408.9 -177,409.5 -181,412.4 C-194,425 -198,450 -199.8,468 C-201,476.5 -204,480.3 -212,480.6 V481.6 Z" fill="#ececec"/>
<path d="M220.8,480.6 H212 C204,480.3 201,476.5 199.8,468 C198,450 194,425 181,412.4 C177,409.5 173,408.9 169.8,408.9 H150 C143,408.9 139,405 139,398 V394.2 H-139 V398 C-139,405 -143,408.9 -150,408.9 H-169.8 C-173,408.9 -177,409.5 -181,412.4 C-194,425 -198,450 -199.8,468 C-201,476.5 -204,480.3 -212,480.6 H-220.8" fill="none" stroke="#555" stroke-width="1.15"/>
<path d="M-155,408.9 V221.5 Q-155,191.5 -125,191.5 H125 Q155,191.5 155,221.5 V408.9 H150 C143,408.9 139,405 139,398 V394.2 H-139 V398 C-139,405 -143,408.9 -150,408.9 Z" fill="url(#rb)"/>
<path d="M-155,408.9 V221.5 Q-155,191.5 -125,191.5 H125 Q155,191.5 155,221.5 V408.9" fill="none" stroke="#e2e2e2" stroke-width="0.9" opacity="0.8"/>
<path d="M-139,394.2 V222 Q-139,207 -124,207 H124 Q139,207 139,222 V394.2 Z" fill="url(#ri)" stroke="#4e4e4e" stroke-width="1"/>
<circle cx="0" cy="301.6" r="86.7" fill="url(#pinO)" stroke="#4a4a4a" stroke-width="1"/>
<circle cx="0" cy="301.6" r="84" fill="none" stroke="#5a5a5a" stroke-width="0.8"/>
<circle cx="0" cy="301.6" r="75.2" fill="#e2e2e2" stroke="#4a4a4a" stroke-width="1"/>
<circle cx="0" cy="301.6" r="72.4" fill="url(#pinI)" stroke="#5a5a5a" stroke-width="0.8"/>
<circle cx="0" cy="301.6" r="45.6" fill="#d9d9dc" stroke="#4a4a4a" stroke-width="0.9"/>
<circle cx="0" cy="301.6" r="41.7" fill="#7d7f84" stroke="#3c3c3c" stroke-width="0.9"/>
<path d="M-220.3,34.8 Q-220.3,27 -213.3,23.1A221.3,31.5 0 0 1 213.3,23.1Q220.3,27 220.3,34.8V57.3A221.3,19.1 0 0 0 -220.3,57.3Z" fill="url(#pg)" stroke="#454545" stroke-width="0.9" stroke-linejoin="round"/>
<path d="M-220.3,77.9A221.3,19.2 0 0 1 220.3,77.9V97.9A221.3,18.3 0 0 0 -220.3,97.9Z" fill="url(#pg)" stroke="#454545" stroke-width="0.9" stroke-linejoin="round"/>
<path d="M-220.3,118.9A221.3,19.4 0 0 1 220.3,118.9V138.2A221.3,19 0 0 0 -220.3,138.2Z" fill="url(#pg)" stroke="#454545" stroke-width="0.9" stroke-linejoin="round"/>
</g>
<path d="M2006.6,412.7 V1012.3M2447,412.7 V1012.3" fill="none" stroke="#111" stroke-width="2.05"/>
<clipPath id="rc3"><rect x="1876.8" y="790.3" width="700" height="322.5"/></clipPath>
<g clip-path="url(#rc3)"><g transform="translate(2226.8,396.1)">
<path d="M-74.2,394.2C-68.7,474.2 -58.8,534.2 -58.8,599.2 C-58.8,644.2 -65.8,684.2 -81.8,717.2H74.2C58.2,684.2 51.2,644.2 51.2,599.2 C51.2,534.2 61.1,474.2 66.6,394.2Z" fill="url(#rodO)" stroke="#444" stroke-width="0.9"/>
<path d="M-43.4,426.2C-40.8,489.2 -34.1,544.2 -34.1,599.2 C-34.1,644.2 -40.8,684.2 -54.4,717.2H46.8C33.2,684.2 26.5,644.2 26.5,599.2 C26.5,544.2 33.2,489.2 35.8,426.2Q36,418.2 28.2,418.2 H-35.8 Q-43.6,418.2 -43.4,426.2Z" fill="url(#rodI)" stroke="#444" stroke-width="0.9"/>
</g></g>
<path d="M2122.1,385.5C2121.8,382.9 2121.6,377.5 2123,372.6C2124.4,367.7 2127,361.2 2130.4,355.9C2133.8,350.6 2138.8,344.7 2143.4,341C2148,337.3 2151.4,335.1 2158.2,333.6C2165,332.1 2170.6,332 2184.2,331.8C2197.8,331.6 2221.2,332.4 2239.8,332.7C2258.4,333 2283.1,333.6 2295.5,333.6C2307.9,333.6 2310.2,333.6 2314,332.7C2317.8,331.8 2317.5,332.2 2318.6,328C2319.7,323.8 2320.3,315.6 2320.5,307.6C2320.7,299.6 2319.9,290.6 2319.6,279.8C2319.3,269 2318.9,253.5 2318.6,242.7C2318.3,231.9 2317.7,222 2317.7,214.9C2317.7,207.8 2317.4,204 2318.6,200.1C2319.8,196.2 2321.8,193.9 2325.1,191.7C2328.3,189.5 2330.7,188.6 2338.1,187.1C2345.5,185.6 2359.7,183.7 2369.6,182.5C2379.5,181.3 2389.8,179.9 2397.5,179.7C2405.2,179.5 2407.2,180.1 2416,181.5C2424.8,182.9 2439.5,184.6 2450,188C2460.5,191.4 2474,197.7 2479.1,201.9C2484.2,206.1 2480.3,209.3 2480.5,213C2480.7,216.7 2481.2,220.8 2480,224.2C2478.8,227.6 2476.4,231.2 2473.5,233.5C2470.6,235.8 2467.3,237.7 2462.4,238.1C2457.5,238.5 2450,237.6 2443.8,236.2C2437.6,234.8 2431.5,231.7 2425.3,229.7C2419.1,227.7 2412.3,225.3 2406.7,224.2C2401.1,223.1 2395.9,223 2391.9,223.3C2387.9,223.6 2385.1,224.3 2382.6,226C2380.1,227.7 2378.5,229.2 2377.1,233.5C2375.7,237.8 2374.6,244.3 2374.3,252C2374,259.7 2374.4,270.5 2375.2,279.8C2376,289.1 2377.3,299.9 2378.9,307.6C2380.5,315.3 2382.3,320.9 2384.5,326.2C2386.7,331.5 2389.1,335.8 2391.9,339.2C2394.7,342.6 2398.1,344.1 2401.2,346.6C2404.3,349.1 2407.7,350.9 2410.5,354C2413.3,357.1 2415.9,361.1 2417.9,365.1C2419.9,369.1 2421.4,373.5 2422.5,378.1C2423.6,382.8 2424.6,389.3 2424.4,393C2424.2,396.7 2423.3,398.9 2421.6,400.4C2419.9,401.9 2419.8,403.1 2414.2,402.2C2408.6,401.3 2397.2,397.6 2388.2,394.8C2379.2,392 2369.7,387.4 2360.4,385.5C2351.1,383.6 2341.9,383.9 2332.6,383.7C2323.3,383.5 2314,383.6 2304.7,384.1C2295.4,384.6 2287.7,386.4 2276.9,386.5C2266.1,386.6 2252.2,385.2 2239.8,384.6C2227.4,384 2215.1,382.7 2202.7,382.8C2190.3,382.9 2176.4,384.4 2165.6,385.5C2154.8,386.6 2144.6,388.7 2137.8,389.2C2131,389.7 2127.4,388.9 2124.8,388.3C2122.2,387.7 2122.4,388.1 2122.1,385.5Z" fill="#c43d33"/>
<rect x="2083.1" y="15.5" width="25.7" height="297.8" fill="url(#stem)" stroke="#4a4a4a" stroke-width="0.8"/>
<path d="M2083.1,312.8 H2108.8 L2142.1,344.7 H2049.8Z" fill="#353535" stroke="#1c1c1c" stroke-width="0.8"/>
<rect x="2213.6" y="15.5" width="25.3" height="259.2" fill="url(#stem)" stroke="#4a4a4a" stroke-width="0.8"/>
<path d="M2213.6,274.2 H2238.9 L2272.5,305.4 H2180.6Z" fill="#353535" stroke="#1c1c1c" stroke-width="0.8"/>
<rect x="2344.3" y="15.5" width="25.4" height="331.8" fill="url(#stem)" stroke="#4a4a4a" stroke-width="0.8"/>
<path d="M2344.3,346.8 H2369.7 L2402.7,378.4 H2311Z" fill="#353535" stroke="#1c1c1c" stroke-width="0.8"/>
<path d="M2184.5,383.3A7.2,7.2 0 0 1 2172,384.7A10.4,10.4 0 0 1 2156.7,382.9A6.8,6.8 0 0 1 2148.7,374.8A5.8,5.8 0 0 1 2147,365A7.7,7.7 0 0 1 2147.9,353.4A6.4,6.4 0 0 1 2155.6,345.2A9.8,9.8 0 0 1 2170,342.7A8.1,8.1 0 0 1 2183.2,342.4A10.5,10.5 0 0 1 2196.3,352.9A6.6,6.6 0 0 1 2196.4,364A6.1,6.1 0 0 1 2195.1,373.8A8.3,8.3 0 0 1 2184.5,383.3Z" transform="translate(1.2,2.3)" fill="#1f70a9"/>
<path d="M2184.5,383.3A7.2,7.2 0 0 1 2172,384.7A10.4,10.4 0 0 1 2156.7,382.9A6.8,6.8 0 0 1 2148.7,374.8A5.8,5.8 0 0 1 2147,365A7.7,7.7 0 0 1 2147.9,353.4A6.4,6.4 0 0 1 2155.6,345.2A9.8,9.8 0 0 1 2170,342.7A8.1,8.1 0 0 1 2183.2,342.4A10.5,10.5 0 0 1 2196.3,352.9A6.6,6.6 0 0 1 2196.4,364A6.1,6.1 0 0 1 2195.1,373.8A8.3,8.3 0 0 1 2184.5,383.3Z" fill="url(#cl)"/>
<path d="M2188.1,366.9A3,3 0 0 1 2189.1,361.8M2176.3,378.2A4.2,4.2 0 0 1 2176.5,371M2172.7,352.6A3.9,3.9 0 0 1 2177.5,357.2M2155.3,365.7A3,3 0 0 1 2159.8,363.4M2180.4,357.5A3.3,3.3 0 0 1 2175,359.2" fill="none" stroke="#2f86c9" stroke-width="1.1" stroke-linecap="round"/>
<path d="M2231.6,324.2A5.3,5.3 0 0 1 2231.1,333.3A3.9,3.9 0 0 1 2227.5,337.9A6.5,6.5 0 0 1 2217.6,340.9A6.5,6.5 0 0 1 2208.2,338.6A5.7,5.7 0 0 1 2202.9,331.7A6.2,6.2 0 0 1 2203.6,322.5A5.5,5.5 0 0 1 2210.4,316.9A4.6,4.6 0 0 1 2217.3,315.1A7,7 0 0 1 2227.6,318.9A4,4 0 0 1 2231.6,324.2Z" transform="translate(1.5,0.9)" fill="#1f70a9"/>
<path d="M2231.6,324.2A5.3,5.3 0 0 1 2231.1,333.3A3.9,3.9 0 0 1 2227.5,337.9A6.5,6.5 0 0 1 2217.6,340.9A6.5,6.5 0 0 1 2208.2,338.6A5.7,5.7 0 0 1 2202.9,331.7A6.2,6.2 0 0 1 2203.6,322.5A5.5,5.5 0 0 1 2210.4,316.9A4.6,4.6 0 0 1 2217.3,315.1A7,7 0 0 1 2227.6,318.9A4,4 0 0 1 2231.6,324.2Z" fill="url(#cl)"/>
<path d="M2223.7,326.7A3.5,3.5 0 0 1 2229.4,325.1M2215.1,324.9A3.5,3.5 0 0 1 2212.1,319.6M2219.6,331.1A3.1,3.1 0 0 1 2224.7,332.1" fill="none" stroke="#2f86c9" stroke-width="1.1" stroke-linecap="round"/>
<path d="M2308.7,334.7A4.1,4.1 0 0 1 2312.5,340.3A7.6,7.6 0 0 1 2312.8,352.4A8.4,8.4 0 0 1 2304.7,362.6A11.3,11.3 0 0 1 2289.5,374A10,10 0 0 1 2272.9,379.5A9.4,9.4 0 0 1 2258,383.1A9.1,9.1 0 0 1 2244.9,377.7A7.1,7.1 0 0 1 2241.6,367A5,5 0 0 1 2242.6,358.9A13,13 0 0 1 2257.2,344.6A11.4,11.4 0 0 1 2274.2,335.1A9.5,9.5 0 0 1 2290.4,332.2A11.1,11.1 0 0 1 2308.7,334.7Z" transform="translate(-1.6,-2)" fill="#1f70a9"/>
<path d="M2308.7,334.7A4.1,4.1 0 0 1 2312.5,340.3A7.6,7.6 0 0 1 2312.8,352.4A8.4,8.4 0 0 1 2304.7,362.6A11.3,11.3 0 0 1 2289.5,374A10,10 0 0 1 2272.9,379.5A9.4,9.4 0 0 1 2258,383.1A9.1,9.1 0 0 1 2244.9,377.7A7.1,7.1 0 0 1 2241.6,367A5,5 0 0 1 2242.6,358.9A13,13 0 0 1 2257.2,344.6A11.4,11.4 0 0 1 2274.2,335.1A9.5,9.5 0 0 1 2290.4,332.2A11.1,11.1 0 0 1 2308.7,334.7Z" fill="url(#cl)"/>
<path d="M2282.6,351.3A2.8,2.8 0 0 1 2286.5,354M2291.4,359.6A3.6,3.6 0 0 1 2294,354M2269.4,365.3A3.1,3.1 0 0 1 2267.7,370.3M2280.6,347.5A3.1,3.1 0 0 1 2284.7,350.8M2282,346.1A4.1,4.1 0 0 1 2282.5,353M2252.6,353.8A3.7,3.7 0 0 1 2258.4,351.7" fill="none" stroke="#2f86c9" stroke-width="1.1" stroke-linecap="round"/>
<path d="M2325.2,222A5.1,5.1 0 0 1 2332.8,224.1A6.8,6.8 0 0 1 2337.7,233.1A8.7,8.7 0 0 1 2340.2,248A9.6,9.6 0 0 1 2339.5,264A7.4,7.4 0 0 1 2333.5,274.7A5.8,5.8 0 0 1 2325.6,279.8A4.7,4.7 0 0 1 2320.4,274A11.7,11.7 0 0 1 2314,257.7A9.1,9.1 0 0 1 2314.5,244.2A9.6,9.6 0 0 1 2319,228.7A6.1,6.1 0 0 1 2325.2,222Z" transform="translate(-2.2,0.2)" fill="#1f70a9"/>
<path d="M2325.2,222A5.1,5.1 0 0 1 2332.8,224.1A6.8,6.8 0 0 1 2337.7,233.1A8.7,8.7 0 0 1 2340.2,248A9.6,9.6 0 0 1 2339.5,264A7.4,7.4 0 0 1 2333.5,274.7A5.8,5.8 0 0 1 2325.6,279.8A4.7,4.7 0 0 1 2320.4,274A11.7,11.7 0 0 1 2314,257.7A9.1,9.1 0 0 1 2314.5,244.2A9.6,9.6 0 0 1 2319,228.7A6.1,6.1 0 0 1 2325.2,222Z" fill="url(#cl)"/>
<path d="M2331,252.8A3.4,3.4 0 0 1 2332.8,247.3M2331.4,231A3.7,3.7 0 0 1 2330.7,237.2M2327,230A2.5,2.5 0 0 1 2322.7,230.1M2329.8,256.7A3.1,3.1 0 0 1 2327.3,252" fill="none" stroke="#2f86c9" stroke-width="1.1" stroke-linecap="round"/>
<path d="M2375.1,333.7A7.8,7.8 0 0 1 2372.9,322.4A11.5,11.5 0 0 1 2374.5,304.4A7.9,7.9 0 0 1 2378.4,291A3.9,3.9 0 0 1 2382.6,286.5A4.7,4.7 0 0 1 2388.6,291.3A6.7,6.7 0 0 1 2393.5,301.7A9,9 0 0 1 2394.5,317.3A10.1,10.1 0 0 1 2392.1,333.5A4.7,4.7 0 0 1 2387.7,340.4A3.9,3.9 0 0 1 2381.4,341.1A6,6 0 0 1 2375.1,333.7Z" fill="url(#cl)"/>
<path d="M2388.3,327.9A2.3,2.3 0 0 1 2390.2,331.4M2385.1,305.6A2.9,2.9 0 0 1 2380.5,303.8M2379,320A3,3 0 0 1 2374,320.6" fill="none" stroke="#2f86c9" stroke-width="1.1" stroke-linecap="round"/>
<path d="M2446.9,176.9A10.7,10.7 0 0 1 2462.6,180.6A8.7,8.7 0 0 1 2475.5,189.1A6.8,6.8 0 0 1 2478.4,198.7A9.6,9.6 0 0 1 2474.7,214.4A10.8,10.8 0 0 1 2462.4,226.5A7.2,7.2 0 0 1 2450.1,228.7A10.1,10.1 0 0 1 2432.5,224.9A6.1,6.1 0 0 1 2424.3,217.9A9.3,9.3 0 0 1 2421.7,203.4A9.7,9.7 0 0 1 2422.8,188A11,11 0 0 1 2436.7,178.7A6.9,6.9 0 0 1 2446.9,176.9Z" transform="translate(-2.5,-0.7)" fill="#1f70a9"/>
<path d="M2446.9,176.9A10.7,10.7 0 0 1 2462.6,180.6A8.7,8.7 0 0 1 2475.5,189.1A6.8,6.8 0 0 1 2478.4,198.7A9.6,9.6 0 0 1 2474.7,214.4A10.8,10.8 0 0 1 2462.4,226.5A7.2,7.2 0 0 1 2450.1,228.7A10.1,10.1 0 0 1 2432.5,224.9A6.1,6.1 0 0 1 2424.3,217.9A9.3,9.3 0 0 1 2421.7,203.4A9.7,9.7 0 0 1 2422.8,188A11,11 0 0 1 2436.7,178.7A6.9,6.9 0 0 1 2446.9,176.9Z" fill="url(#cl)"/>
<path d="M2432.8,209.2A3.2,3.2 0 0 1 2436.8,205.5M2448.9,219A3.5,3.5 0 0 1 2443.6,221.6M2441.1,200.8A2.9,2.9 0 0 1 2436.3,199.4M2447.3,194.8A3.5,3.5 0 0 1 2443.1,199.2M2452.9,183.9A2.9,2.9 0 0 1 2448.1,182.6" fill="none" stroke="#2f86c9" stroke-width="1.1" stroke-linecap="round"/>
<path d="M2395,372.8A4.5,4.5 0 0 1 2403,372.1A7.1,7.1 0 0 1 2413.3,374.4A4.8,4.8 0 0 1 2418.7,379.5A4.6,4.6 0 0 1 2419.4,387.2A6,6 0 0 1 2412.4,393.6A6,6 0 0 1 2402.9,396.8A4.5,4.5 0 0 1 2396,395.5A6.8,6.8 0 0 1 2389,387.5A5,5 0 0 1 2388.9,379.5A5.2,5.2 0 0 1 2395,372.8Z" transform="translate(1.4,1.1)" fill="#1f70a9"/>
<path d="M2395,372.8A4.5,4.5 0 0 1 2403,372.1A7.1,7.1 0 0 1 2413.3,374.4A4.8,4.8 0 0 1 2418.7,379.5A4.6,4.6 0 0 1 2419.4,387.2A6,6 0 0 1 2412.4,393.6A6,6 0 0 1 2402.9,396.8A4.5,4.5 0 0 1 2396,395.5A6.8,6.8 0 0 1 2389,387.5A5,5 0 0 1 2388.9,379.5A5.2,5.2 0 0 1 2395,372.8Z" fill="url(#cl)"/>
<path d="M2399.5,387.1A3.5,3.5 0 0 1 2404.8,384.6M2405.2,377.9A2.6,2.6 0 0 1 2404,373.7M2403,392.8A2.6,2.6 0 0 1 2407.3,392" fill="none" stroke="#2f86c9" stroke-width="1.1" stroke-linecap="round"/>
<path d="M2276.9,360.5C2280.8,360.2 2294.1,359.1 2300,358.5C2305.9,357.9 2308.9,358.1 2312.2,356.8C2315.5,355.6 2318.2,353.1 2320,351C2321.8,348.9 2322.5,348.1 2323.3,344C2324.2,339.9 2325.1,335.2 2325.1,326.2C2325.1,317.2 2323.9,302.7 2323.5,290C2323.1,277.3 2322.8,262.5 2322.4,250C2322.1,237.5 2321.6,220.8 2321.4,215" fill="none" stroke="#000" stroke-width="2.5" stroke-dasharray="6.6 4.4"/>
<path d="M2321.4,215 C2321.4,200 2326,194 2341.8,188.5 L2344,188" fill="none" stroke="#000" stroke-width="2.5" stroke-dasharray="6.6 4.4"/>
<path d="M2369.8,185.4 L2462,185.2" fill="none" stroke="#000" stroke-width="2.5" stroke-dasharray="6.6 4.4" marker-end="url(#ah)"/>
<path d="M2392.8,363.3C2392.7,359.9 2393,351.2 2391.9,342.9C2390.8,334.5 2388.2,323.7 2386.3,313.2C2384.5,302.7 2382.2,290 2380.8,279.8C2379.4,269.6 2378.3,260 2378,252C2377.7,244 2377.8,236.8 2378.9,231.6C2380,226.3 2381.1,223.1 2384.5,220.5C2387.9,217.9 2391.7,216.8 2399.3,216.3C2406.9,215.8 2419.6,217 2430,217.5C2440.4,218 2456.7,219.2 2462,219.5" fill="none" stroke="#000" stroke-width="2.5" stroke-dasharray="6.6 4.4" marker-end="url(#ah)"/>
</g>
<text x="314.3" y="1166" text-anchor="middle" font-weight="bold" font-size="40.8">Return Stroke</text>
<text x="928.4" y="1159.9" text-anchor="middle" font-weight="bold" font-size="40.8">Top Dead Centre</text>
<text x="1580.9" y="1159.9" text-anchor="middle" font-weight="bold" font-size="40.8">Power Stroke</text>
<text x="2232.8" y="1159.9" text-anchor="middle" font-weight="bold" font-size="40.8">Bottom Dead Centre</text>
<text x="33.5" y="1248.3" font-size="34.2">Water heat exchange fluid enters the</text>
<text x="33.5" y="1288.9" font-size="34.2">cylinder.</text>
<text x="647.4" y="1242.2" font-size="34.2">Cryogenic liquid is injected directly</text>
<text x="647.4" y="1282.8" font-size="34.2">into the cylinder. Heat transfer with</text>
<text x="647.4" y="1323.9" font-size="34.2">the heat exchange fluid causes rapid</text>
<text x="647.4" y="1365" font-size="34.2">vaproisation and pressure to rise.</text>
<text x="1299.3" y="1242.2" font-size="34.2">The vaporised cryogenic liquid</text>
<text x="1299.3" y="1282.8" font-size="34.2">expands pushing the piston down.</text>
<text x="1299.3" y="1323.9" font-size="34.2">Direct contact heat transfer</text>
<text x="1299.3" y="1365" font-size="34.2">continues allowing near isothermal</text>
<text x="1299.3" y="1406.2" font-size="34.2">expansion</text>
<text x="1951.8" y="1242.2" font-size="34.2">The exhaust mixture leaves the</text>
<text x="1951.8" y="1282.8" font-size="34.2">cylinder. The gas is returned to the</text>
<text x="1951.8" y="1323.9" font-size="34.2">atmosphere and the heat exchange</text>
<text x="1951.8" y="1365" font-size="34.2">fluid is re-heated and re-used.</text>
</svg></body></html>
